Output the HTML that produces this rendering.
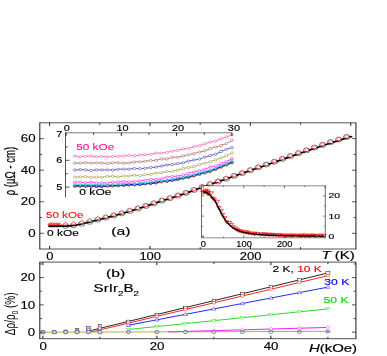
<!DOCTYPE html>
<html><head><meta charset="utf-8"><title>SrIr2B2 resistivity</title>
<style>
html,body{margin:0;padding:0;background:#fff;}
svg{display:block;position:absolute;left:0;top:0;font-family:"Liberation Sans",sans-serif;}
</style></head>
<body>
<svg width="387" height="356" viewBox="0 0 387 356">
<defs><filter id="soft" x="0" y="0" width="387" height="356" filterUnits="userSpaceOnUse"><feGaussianBlur stdDeviation="0.42 0.27"/></filter></defs>
<rect x="0" y="0" width="387" height="356" fill="#fff"/>
<g filter="url(#soft)">
<rect x="0" y="0" width="387" height="356" fill="#fff"/>
<g id="panel-a">
<ellipse cx="65.6" cy="225.89" rx="3.26" ry="2.45" fill="none" stroke="#181818" stroke-width="0.55"/>
<ellipse cx="73.63" cy="225.28" rx="3.26" ry="2.45" fill="none" stroke="#181818" stroke-width="0.55"/>
<ellipse cx="81.66" cy="223.76" rx="3.26" ry="2.45" fill="none" stroke="#181818" stroke-width="0.55"/>
<ellipse cx="89.69" cy="221.83" rx="3.26" ry="2.45" fill="none" stroke="#181818" stroke-width="0.55"/>
<ellipse cx="97.72" cy="219.72" rx="3.26" ry="2.45" fill="none" stroke="#181818" stroke-width="0.55"/>
<ellipse cx="105.75" cy="217.71" rx="3.26" ry="2.45" fill="none" stroke="#181818" stroke-width="0.55"/>
<ellipse cx="113.78" cy="215.63" rx="3.26" ry="2.45" fill="none" stroke="#181818" stroke-width="0.55"/>
<ellipse cx="121.81" cy="213.42" rx="3.26" ry="2.45" fill="none" stroke="#181818" stroke-width="0.55"/>
<ellipse cx="129.84" cy="210.99" rx="3.26" ry="2.45" fill="none" stroke="#181818" stroke-width="0.55"/>
<ellipse cx="137.87" cy="208.61" rx="3.26" ry="2.45" fill="none" stroke="#181818" stroke-width="0.55"/>
<ellipse cx="145.9" cy="206.03" rx="3.26" ry="2.45" fill="none" stroke="#181818" stroke-width="0.55"/>
<ellipse cx="153.93" cy="203.39" rx="3.26" ry="2.45" fill="none" stroke="#181818" stroke-width="0.55"/>
<ellipse cx="161.96" cy="200.68" rx="3.26" ry="2.45" fill="none" stroke="#181818" stroke-width="0.55"/>
<ellipse cx="169.99" cy="198.2" rx="3.26" ry="2.45" fill="none" stroke="#181818" stroke-width="0.55"/>
<ellipse cx="178.02" cy="195.63" rx="3.26" ry="2.45" fill="none" stroke="#181818" stroke-width="0.55"/>
<ellipse cx="186.05" cy="192.98" rx="3.26" ry="2.45" fill="none" stroke="#181818" stroke-width="0.55"/>
<ellipse cx="194.08" cy="190.01" rx="3.26" ry="2.45" fill="none" stroke="#181818" stroke-width="0.55"/>
<ellipse cx="202.11" cy="187.13" rx="3.26" ry="2.45" fill="none" stroke="#181818" stroke-width="0.55"/>
<ellipse cx="210.14" cy="184.26" rx="3.26" ry="2.45" fill="none" stroke="#181818" stroke-width="0.55"/>
<ellipse cx="218.17" cy="181.51" rx="3.26" ry="2.45" fill="none" stroke="#181818" stroke-width="0.55"/>
<ellipse cx="226.2" cy="178.77" rx="3.26" ry="2.45" fill="none" stroke="#181818" stroke-width="0.55"/>
<ellipse cx="234.23" cy="175.92" rx="3.26" ry="2.45" fill="none" stroke="#181818" stroke-width="0.55"/>
<ellipse cx="242.26" cy="173.11" rx="3.26" ry="2.45" fill="none" stroke="#181818" stroke-width="0.55"/>
<ellipse cx="250.29" cy="170.2" rx="3.26" ry="2.45" fill="none" stroke="#181818" stroke-width="0.55"/>
<ellipse cx="258.32" cy="167.42" rx="3.26" ry="2.45" fill="none" stroke="#181818" stroke-width="0.55"/>
<ellipse cx="266.35" cy="164.59" rx="3.26" ry="2.45" fill="none" stroke="#181818" stroke-width="0.55"/>
<ellipse cx="274.38" cy="161.76" rx="3.26" ry="2.45" fill="none" stroke="#181818" stroke-width="0.55"/>
<ellipse cx="282.41" cy="158.9" rx="3.26" ry="2.45" fill="none" stroke="#181818" stroke-width="0.55"/>
<ellipse cx="290.44" cy="156.05" rx="3.26" ry="2.45" fill="none" stroke="#181818" stroke-width="0.55"/>
<ellipse cx="298.47" cy="153.24" rx="3.26" ry="2.45" fill="none" stroke="#181818" stroke-width="0.55"/>
<ellipse cx="306.5" cy="150.42" rx="3.26" ry="2.45" fill="none" stroke="#181818" stroke-width="0.55"/>
<ellipse cx="314.53" cy="147.62" rx="3.26" ry="2.45" fill="none" stroke="#181818" stroke-width="0.55"/>
<ellipse cx="322.56" cy="144.91" rx="3.26" ry="2.45" fill="none" stroke="#181818" stroke-width="0.55"/>
<ellipse cx="330.59" cy="142.21" rx="3.26" ry="2.45" fill="none" stroke="#181818" stroke-width="0.55"/>
<ellipse cx="338.62" cy="139.6" rx="3.26" ry="2.45" fill="none" stroke="#181818" stroke-width="0.55"/>
<ellipse cx="346.65" cy="136.98" rx="3.26" ry="2.45" fill="none" stroke="#181818" stroke-width="0.55"/>
<polyline points="49.6,226.2 51.6,226.2 53.6,226.2 55.6,226.2 57.6,226.19 59.6,226.17 61.6,226.15 63.6,226.12 65.6,226.09 67.6,225.94 69.6,225.79 71.6,225.64 73.6,225.48 75.6,225.11 77.6,224.73 79.6,224.36 81.6,223.98 83.6,223.49 85.6,223.01 87.6,222.53 89.6,222.05 91.6,221.53 93.6,221 95.6,220.48 97.6,219.95 99.6,219.45 101.6,218.95 103.6,218.45 105.6,217.95 107.6,217.43 109.6,216.91 111.6,216.4 113.6,215.88 115.6,215.33 117.6,214.78 119.6,214.23 121.6,213.68 123.6,213.08 125.6,212.48 127.6,211.87 129.6,211.26 131.6,210.67 133.6,210.07 135.6,209.48 137.6,208.89 139.6,208.25 141.6,207.61 143.6,206.97 145.6,206.33 147.6,205.67 149.6,205.02 151.6,204.36 153.6,203.7 155.6,203.03 157.6,202.35 159.6,201.68 161.6,201 163.6,200.38 165.6,199.76 167.6,199.14 169.6,198.52 171.6,197.89 173.6,197.24 175.6,196.6 177.6,195.96 179.6,195.31 181.6,194.65 183.6,193.99 185.6,193.33 187.6,192.61 189.6,191.87 191.6,191.13 193.6,190.39 195.6,189.66 197.6,188.95 199.6,188.23 201.6,187.51 203.6,186.8 205.6,186.08 207.6,185.37 209.6,184.65 211.6,183.96 213.6,183.27 215.6,182.59 217.6,181.91 219.6,181.22 221.6,180.54 223.6,179.86 225.6,179.17 227.6,178.47 229.6,177.77 231.6,177.07 233.6,176.37 235.6,175.68 237.6,175 239.6,174.31 241.6,173.62 243.6,172.92 245.6,172.21 247.6,171.5 249.6,170.78 251.6,170.09 253.6,169.42 255.6,168.74 257.6,168.06 259.6,167.37 261.6,166.68 263.6,165.99 265.6,165.3 267.6,164.6 269.6,163.91 271.6,163.22 273.6,162.53 275.6,161.83 277.6,161.13 279.6,160.44 281.6,159.74 283.6,159.04 285.6,158.34 287.6,157.64 289.6,156.94 291.6,156.25 293.6,155.56 295.6,154.88 297.6,154.19 299.6,153.5 301.6,152.82 303.6,152.13 305.6,151.44 307.6,150.76 309.6,150.07 311.6,149.38 313.6,148.7 315.6,148.03 317.6,147.37 319.6,146.71 321.6,146.05 323.6,145.38 325.6,144.72 327.6,144.06 329.6,143.4 331.6,142.76 333.6,142.12 335.6,141.48 337.6,140.85 339.6,140.21 341.6,139.57 343.6,138.93 345.6,138.3 347.6,137.67 349.6,137.04 351.6,136.61" fill="none" stroke="#000" stroke-width="1.7" stroke-linejoin="round" stroke-linecap="round" />
<ellipse cx="49.4" cy="226.1" rx="1.2" ry="0.9" fill="#222" stroke="#000" stroke-width="0.4"/>
<ellipse cx="50.7" cy="226.1" rx="1.2" ry="0.9" fill="#222" stroke="#000" stroke-width="0.4"/>
<ellipse cx="52" cy="226.1" rx="1.2" ry="0.9" fill="#222" stroke="#000" stroke-width="0.4"/>
<ellipse cx="53.3" cy="226.1" rx="1.2" ry="0.9" fill="#222" stroke="#000" stroke-width="0.4"/>
<ellipse cx="54.6" cy="226.1" rx="1.2" ry="0.9" fill="#222" stroke="#000" stroke-width="0.4"/>
<ellipse cx="55.9" cy="226.1" rx="1.2" ry="0.9" fill="#222" stroke="#000" stroke-width="0.4"/>
<ellipse cx="57.2" cy="226.1" rx="1.2" ry="0.9" fill="#222" stroke="#000" stroke-width="0.4"/>
<ellipse cx="58.5" cy="226.1" rx="1.2" ry="0.9" fill="#222" stroke="#000" stroke-width="0.4"/>
<ellipse cx="59.8" cy="226.1" rx="1.2" ry="0.9" fill="#222" stroke="#000" stroke-width="0.4"/>
<polygon points="49.4,222.78 47.8,225 51,225" fill="#ff9090" stroke="#f01010" stroke-width="0.5" stroke-linejoin="miter"/>
<polygon points="50.7,222.78 49.1,225 52.3,225" fill="#ff9090" stroke="#f01010" stroke-width="0.5" stroke-linejoin="miter"/>
<polygon points="52,222.78 50.4,225 53.6,225" fill="#ff9090" stroke="#f01010" stroke-width="0.5" stroke-linejoin="miter"/>
<polygon points="53.3,222.78 51.7,225 54.9,225" fill="#ff9090" stroke="#f01010" stroke-width="0.5" stroke-linejoin="miter"/>
<polygon points="54.6,222.78 53,225 56.2,225" fill="#ff9090" stroke="#f01010" stroke-width="0.5" stroke-linejoin="miter"/>
<polygon points="55.9,222.78 54.3,225 57.5,225" fill="#ff9090" stroke="#f01010" stroke-width="0.5" stroke-linejoin="miter"/>
<polygon points="57.2,222.78 55.6,225 58.8,225" fill="#ff9090" stroke="#f01010" stroke-width="0.5" stroke-linejoin="miter"/>
<polygon points="58.5,222.78 56.9,225 60.1,225" fill="#ff9090" stroke="#f01010" stroke-width="0.5" stroke-linejoin="miter"/>
<polygon points="59.8,222.78 58.2,225 61.4,225" fill="#ff9090" stroke="#f01010" stroke-width="0.5" stroke-linejoin="miter"/>
<polygon points="65.6,221.67 63.19,225.02 68.01,225.02" fill="#fff" stroke="#f42830" stroke-width="0.62" stroke-linejoin="miter"/>
<polygon points="73.63,221.21 71.18,224.61 76.08,224.61" fill="#fff" stroke="#f42830" stroke-width="0.62" stroke-linejoin="miter"/>
<polygon points="81.66,219.88 79.17,223.34 84.15,223.34" fill="#fff" stroke="#f42830" stroke-width="0.62" stroke-linejoin="miter"/>
<polygon points="89.69,218.12 87.16,221.63 92.22,221.63" fill="#fff" stroke="#f42830" stroke-width="0.62" stroke-linejoin="miter"/>
<polygon points="97.72,216.16 95.15,219.73 100.29,219.73" fill="#fff" stroke="#f42830" stroke-width="0.62" stroke-linejoin="miter"/>
<polygon points="105.75,214.27 103.14,217.89 108.36,217.89" fill="#fff" stroke="#f42830" stroke-width="0.62" stroke-linejoin="miter"/>
<polygon points="113.78,212.27 111.13,215.95 116.43,215.95" fill="#fff" stroke="#f42830" stroke-width="0.62" stroke-linejoin="miter"/>
<polygon points="121.81,210.13 119.12,213.87 124.5,213.87" fill="#fff" stroke="#f42830" stroke-width="0.62" stroke-linejoin="miter"/>
<polygon points="129.84,207.74 127.11,211.53 132.57,211.53" fill="#fff" stroke="#f42830" stroke-width="0.62" stroke-linejoin="miter"/>
<polygon points="137.87,205.42 135.14,209.21 140.6,209.21" fill="#fff" stroke="#f42830" stroke-width="0.62" stroke-linejoin="miter"/>
<polygon points="145.9,202.89 143.17,206.68 148.63,206.68" fill="#fff" stroke="#f42830" stroke-width="0.62" stroke-linejoin="miter"/>
<polygon points="153.93,200.29 151.2,204.08 156.66,204.08" fill="#fff" stroke="#f42830" stroke-width="0.62" stroke-linejoin="miter"/>
<polygon points="161.96,197.61 159.23,201.41 164.69,201.41" fill="#fff" stroke="#f42830" stroke-width="0.62" stroke-linejoin="miter"/>
<polygon points="169.99,195.16 167.26,198.95 172.72,198.95" fill="#fff" stroke="#f42830" stroke-width="0.62" stroke-linejoin="miter"/>
<polygon points="178.02,192.61 175.29,196.4 180.75,196.4" fill="#fff" stroke="#f42830" stroke-width="0.62" stroke-linejoin="miter"/>
<polygon points="186.05,189.98 183.32,193.77 188.78,193.77" fill="#fff" stroke="#f42830" stroke-width="0.62" stroke-linejoin="miter"/>
<polygon points="194.08,187.02 191.35,190.82 196.81,190.82" fill="#fff" stroke="#f42830" stroke-width="0.62" stroke-linejoin="miter"/>
<polygon points="202.11,184.16 199.38,187.95 204.84,187.95" fill="#fff" stroke="#f42830" stroke-width="0.62" stroke-linejoin="miter"/>
<polygon points="210.14,181.3 207.41,185.09 212.87,185.09" fill="#fff" stroke="#f42830" stroke-width="0.62" stroke-linejoin="miter"/>
<polygon points="218.17,178.56 215.44,182.35 220.9,182.35" fill="#fff" stroke="#f42830" stroke-width="0.62" stroke-linejoin="miter"/>
<polygon points="226.2,175.83 223.47,179.62 228.93,179.62" fill="#fff" stroke="#f42830" stroke-width="0.62" stroke-linejoin="miter"/>
<polygon points="234.23,172.99 231.5,176.78 236.96,176.78" fill="#fff" stroke="#f42830" stroke-width="0.62" stroke-linejoin="miter"/>
<polygon points="242.26,170.19 239.53,173.98 244.99,173.98" fill="#fff" stroke="#f42830" stroke-width="0.62" stroke-linejoin="miter"/>
<polygon points="250.29,167.28 247.56,171.08 253.02,171.08" fill="#fff" stroke="#f42830" stroke-width="0.62" stroke-linejoin="miter"/>
<polygon points="258.32,164.51 255.59,168.3 261.05,168.3" fill="#fff" stroke="#f42830" stroke-width="0.62" stroke-linejoin="miter"/>
<polygon points="266.35,161.68 263.62,165.48 269.08,165.48" fill="#fff" stroke="#f42830" stroke-width="0.62" stroke-linejoin="miter"/>
<polygon points="274.38,158.86 271.65,162.65 277.11,162.65" fill="#fff" stroke="#f42830" stroke-width="0.62" stroke-linejoin="miter"/>
<polygon points="282.41,156 279.68,159.79 285.14,159.79" fill="#fff" stroke="#f42830" stroke-width="0.62" stroke-linejoin="miter"/>
<polygon points="290.44,153.15 287.71,156.94 293.17,156.94" fill="#fff" stroke="#f42830" stroke-width="0.62" stroke-linejoin="miter"/>
<polygon points="298.47,150.34 295.74,154.13 301.2,154.13" fill="#fff" stroke="#f42830" stroke-width="0.62" stroke-linejoin="miter"/>
<polygon points="306.5,147.53 303.77,151.32 309.23,151.32" fill="#fff" stroke="#f42830" stroke-width="0.62" stroke-linejoin="miter"/>
<polygon points="314.53,144.73 311.8,148.52 317.26,148.52" fill="#fff" stroke="#f42830" stroke-width="0.62" stroke-linejoin="miter"/>
<polygon points="322.56,142.02 319.83,145.81 325.29,145.81" fill="#fff" stroke="#f42830" stroke-width="0.62" stroke-linejoin="miter"/>
<polygon points="330.59,139.32 327.86,143.11 333.32,143.11" fill="#fff" stroke="#f42830" stroke-width="0.62" stroke-linejoin="miter"/>
<polygon points="338.62,136.71 335.89,140.5 341.35,140.5" fill="#fff" stroke="#f42830" stroke-width="0.62" stroke-linejoin="miter"/>
<polygon points="346.65,134.1 343.92,137.89 349.38,137.89" fill="#fff" stroke="#f42830" stroke-width="0.62" stroke-linejoin="miter"/>
</g>
<g id="inset1">
<polyline points="74.85,186.07 80.26,186.31 85.68,185.92 91.09,186.24 96.51,186.71 101.93,186.73 107.34,185.84 112.76,185.81 118.17,185.44 123.59,185.6 129,184.8 134.42,184.87 139.84,184.64 145.25,183.73 150.67,183.62 156.08,182.92 161.5,181.61 166.91,181.44 172.33,180.25 177.74,179.46 183.16,178.24 188.58,177.49 193.99,175.89 199.41,174.13 204.82,172.95 210.24,171.46 215.65,169.03 221.07,166.87 226.48,164.8 231.9,162.98" fill="none" stroke="#000000" stroke-width="0.7" stroke-linejoin="round" stroke-linecap="round" stroke-linejoin="miter"/>
<ellipse cx="74.85" cy="186.07" rx="1.33" ry="1" fill="#fff" fill-opacity="0.45" stroke="#000000" stroke-width="0.5"/>
<ellipse cx="80.26" cy="186.31" rx="1.33" ry="1" fill="#fff" fill-opacity="0.45" stroke="#000000" stroke-width="0.5"/>
<ellipse cx="85.68" cy="185.92" rx="1.33" ry="1" fill="#fff" fill-opacity="0.45" stroke="#000000" stroke-width="0.5"/>
<ellipse cx="91.09" cy="186.24" rx="1.33" ry="1" fill="#fff" fill-opacity="0.45" stroke="#000000" stroke-width="0.5"/>
<ellipse cx="96.51" cy="186.71" rx="1.33" ry="1" fill="#fff" fill-opacity="0.45" stroke="#000000" stroke-width="0.5"/>
<ellipse cx="101.93" cy="186.73" rx="1.33" ry="1" fill="#fff" fill-opacity="0.45" stroke="#000000" stroke-width="0.5"/>
<ellipse cx="107.34" cy="185.84" rx="1.33" ry="1" fill="#fff" fill-opacity="0.45" stroke="#000000" stroke-width="0.5"/>
<ellipse cx="112.76" cy="185.81" rx="1.33" ry="1" fill="#fff" fill-opacity="0.45" stroke="#000000" stroke-width="0.5"/>
<ellipse cx="118.17" cy="185.44" rx="1.33" ry="1" fill="#fff" fill-opacity="0.45" stroke="#000000" stroke-width="0.5"/>
<ellipse cx="123.59" cy="185.6" rx="1.33" ry="1" fill="#fff" fill-opacity="0.45" stroke="#000000" stroke-width="0.5"/>
<ellipse cx="129" cy="184.8" rx="1.33" ry="1" fill="#fff" fill-opacity="0.45" stroke="#000000" stroke-width="0.5"/>
<ellipse cx="134.42" cy="184.87" rx="1.33" ry="1" fill="#fff" fill-opacity="0.45" stroke="#000000" stroke-width="0.5"/>
<ellipse cx="139.84" cy="184.64" rx="1.33" ry="1" fill="#fff" fill-opacity="0.45" stroke="#000000" stroke-width="0.5"/>
<ellipse cx="145.25" cy="183.73" rx="1.33" ry="1" fill="#fff" fill-opacity="0.45" stroke="#000000" stroke-width="0.5"/>
<ellipse cx="150.67" cy="183.62" rx="1.33" ry="1" fill="#fff" fill-opacity="0.45" stroke="#000000" stroke-width="0.5"/>
<ellipse cx="156.08" cy="182.92" rx="1.33" ry="1" fill="#fff" fill-opacity="0.45" stroke="#000000" stroke-width="0.5"/>
<ellipse cx="161.5" cy="181.61" rx="1.33" ry="1" fill="#fff" fill-opacity="0.45" stroke="#000000" stroke-width="0.5"/>
<ellipse cx="166.91" cy="181.44" rx="1.33" ry="1" fill="#fff" fill-opacity="0.45" stroke="#000000" stroke-width="0.5"/>
<ellipse cx="172.33" cy="180.25" rx="1.33" ry="1" fill="#fff" fill-opacity="0.45" stroke="#000000" stroke-width="0.5"/>
<ellipse cx="177.74" cy="179.46" rx="1.33" ry="1" fill="#fff" fill-opacity="0.45" stroke="#000000" stroke-width="0.5"/>
<ellipse cx="183.16" cy="178.24" rx="1.33" ry="1" fill="#fff" fill-opacity="0.45" stroke="#000000" stroke-width="0.5"/>
<ellipse cx="188.58" cy="177.49" rx="1.33" ry="1" fill="#fff" fill-opacity="0.45" stroke="#000000" stroke-width="0.5"/>
<ellipse cx="193.99" cy="175.89" rx="1.33" ry="1" fill="#fff" fill-opacity="0.45" stroke="#000000" stroke-width="0.5"/>
<ellipse cx="199.41" cy="174.13" rx="1.33" ry="1" fill="#fff" fill-opacity="0.45" stroke="#000000" stroke-width="0.5"/>
<ellipse cx="204.82" cy="172.95" rx="1.33" ry="1" fill="#fff" fill-opacity="0.45" stroke="#000000" stroke-width="0.5"/>
<ellipse cx="210.24" cy="171.46" rx="1.33" ry="1" fill="#fff" fill-opacity="0.45" stroke="#000000" stroke-width="0.5"/>
<ellipse cx="215.65" cy="169.03" rx="1.33" ry="1" fill="#fff" fill-opacity="0.45" stroke="#000000" stroke-width="0.5"/>
<ellipse cx="221.07" cy="166.87" rx="1.33" ry="1" fill="#fff" fill-opacity="0.45" stroke="#000000" stroke-width="0.5"/>
<ellipse cx="226.48" cy="164.8" rx="1.33" ry="1" fill="#fff" fill-opacity="0.45" stroke="#000000" stroke-width="0.5"/>
<ellipse cx="231.9" cy="162.98" rx="1.33" ry="1" fill="#fff" fill-opacity="0.45" stroke="#000000" stroke-width="0.5"/>
<polyline points="74.85,186.44 80.26,186.17 85.68,186.5 91.09,186.51 96.51,186.05 101.93,185.75 107.34,186.32 112.76,186.1 118.17,185.69 123.59,185.26 129,185.12 134.42,184.79 139.84,184.12 145.25,183.65 150.67,183.28 156.08,183.12 161.5,182.13 166.91,181.03 172.33,180.17 177.74,179.4 183.16,178.05 188.58,176.85 193.99,175.87 199.41,173.95 204.82,172.79 210.24,170.9 215.65,169.37 221.07,167.35 226.48,165.04 231.9,162.61" fill="none" stroke="#ff0000" stroke-width="0.7" stroke-linejoin="round" stroke-linecap="round" stroke-linejoin="miter"/>
<ellipse cx="74.85" cy="186.44" rx="1.33" ry="1" fill="#fff" fill-opacity="0.45" stroke="#ff0000" stroke-width="0.5"/>
<ellipse cx="80.26" cy="186.17" rx="1.33" ry="1" fill="#fff" fill-opacity="0.45" stroke="#ff0000" stroke-width="0.5"/>
<ellipse cx="85.68" cy="186.5" rx="1.33" ry="1" fill="#fff" fill-opacity="0.45" stroke="#ff0000" stroke-width="0.5"/>
<ellipse cx="91.09" cy="186.51" rx="1.33" ry="1" fill="#fff" fill-opacity="0.45" stroke="#ff0000" stroke-width="0.5"/>
<ellipse cx="96.51" cy="186.05" rx="1.33" ry="1" fill="#fff" fill-opacity="0.45" stroke="#ff0000" stroke-width="0.5"/>
<ellipse cx="101.93" cy="185.75" rx="1.33" ry="1" fill="#fff" fill-opacity="0.45" stroke="#ff0000" stroke-width="0.5"/>
<ellipse cx="107.34" cy="186.32" rx="1.33" ry="1" fill="#fff" fill-opacity="0.45" stroke="#ff0000" stroke-width="0.5"/>
<ellipse cx="112.76" cy="186.1" rx="1.33" ry="1" fill="#fff" fill-opacity="0.45" stroke="#ff0000" stroke-width="0.5"/>
<ellipse cx="118.17" cy="185.69" rx="1.33" ry="1" fill="#fff" fill-opacity="0.45" stroke="#ff0000" stroke-width="0.5"/>
<ellipse cx="123.59" cy="185.26" rx="1.33" ry="1" fill="#fff" fill-opacity="0.45" stroke="#ff0000" stroke-width="0.5"/>
<ellipse cx="129" cy="185.12" rx="1.33" ry="1" fill="#fff" fill-opacity="0.45" stroke="#ff0000" stroke-width="0.5"/>
<ellipse cx="134.42" cy="184.79" rx="1.33" ry="1" fill="#fff" fill-opacity="0.45" stroke="#ff0000" stroke-width="0.5"/>
<ellipse cx="139.84" cy="184.12" rx="1.33" ry="1" fill="#fff" fill-opacity="0.45" stroke="#ff0000" stroke-width="0.5"/>
<ellipse cx="145.25" cy="183.65" rx="1.33" ry="1" fill="#fff" fill-opacity="0.45" stroke="#ff0000" stroke-width="0.5"/>
<ellipse cx="150.67" cy="183.28" rx="1.33" ry="1" fill="#fff" fill-opacity="0.45" stroke="#ff0000" stroke-width="0.5"/>
<ellipse cx="156.08" cy="183.12" rx="1.33" ry="1" fill="#fff" fill-opacity="0.45" stroke="#ff0000" stroke-width="0.5"/>
<ellipse cx="161.5" cy="182.13" rx="1.33" ry="1" fill="#fff" fill-opacity="0.45" stroke="#ff0000" stroke-width="0.5"/>
<ellipse cx="166.91" cy="181.03" rx="1.33" ry="1" fill="#fff" fill-opacity="0.45" stroke="#ff0000" stroke-width="0.5"/>
<ellipse cx="172.33" cy="180.17" rx="1.33" ry="1" fill="#fff" fill-opacity="0.45" stroke="#ff0000" stroke-width="0.5"/>
<ellipse cx="177.74" cy="179.4" rx="1.33" ry="1" fill="#fff" fill-opacity="0.45" stroke="#ff0000" stroke-width="0.5"/>
<ellipse cx="183.16" cy="178.05" rx="1.33" ry="1" fill="#fff" fill-opacity="0.45" stroke="#ff0000" stroke-width="0.5"/>
<ellipse cx="188.58" cy="176.85" rx="1.33" ry="1" fill="#fff" fill-opacity="0.45" stroke="#ff0000" stroke-width="0.5"/>
<ellipse cx="193.99" cy="175.87" rx="1.33" ry="1" fill="#fff" fill-opacity="0.45" stroke="#ff0000" stroke-width="0.5"/>
<ellipse cx="199.41" cy="173.95" rx="1.33" ry="1" fill="#fff" fill-opacity="0.45" stroke="#ff0000" stroke-width="0.5"/>
<ellipse cx="204.82" cy="172.79" rx="1.33" ry="1" fill="#fff" fill-opacity="0.45" stroke="#ff0000" stroke-width="0.5"/>
<ellipse cx="210.24" cy="170.9" rx="1.33" ry="1" fill="#fff" fill-opacity="0.45" stroke="#ff0000" stroke-width="0.5"/>
<ellipse cx="215.65" cy="169.37" rx="1.33" ry="1" fill="#fff" fill-opacity="0.45" stroke="#ff0000" stroke-width="0.5"/>
<ellipse cx="221.07" cy="167.35" rx="1.33" ry="1" fill="#fff" fill-opacity="0.45" stroke="#ff0000" stroke-width="0.5"/>
<ellipse cx="226.48" cy="165.04" rx="1.33" ry="1" fill="#fff" fill-opacity="0.45" stroke="#ff0000" stroke-width="0.5"/>
<ellipse cx="231.9" cy="162.61" rx="1.33" ry="1" fill="#fff" fill-opacity="0.45" stroke="#ff0000" stroke-width="0.5"/>
<polyline points="74.85,185.58 80.26,185.96 85.68,185.68 91.09,186.01 96.51,185.79 101.93,185.94 107.34,185.47 112.76,185.56 118.17,186.16 123.59,185.07 129,185.23 134.42,184.79 139.84,184.43 145.25,183.66 150.67,183.25 156.08,182.06 161.5,181.38 166.91,180.76 172.33,179.85 177.74,178.84 183.16,177.8 188.58,177.08 193.99,175.36 199.41,174.75 204.82,172.86 210.24,170.96 215.65,169.25 221.07,166.69 226.48,165.19 231.9,162.67" fill="none" stroke="#00c000" stroke-width="0.7" stroke-linejoin="round" stroke-linecap="round" stroke-linejoin="miter"/>
<ellipse cx="74.85" cy="185.58" rx="1.33" ry="1" fill="#fff" fill-opacity="0.45" stroke="#00c000" stroke-width="0.5"/>
<ellipse cx="80.26" cy="185.96" rx="1.33" ry="1" fill="#fff" fill-opacity="0.45" stroke="#00c000" stroke-width="0.5"/>
<ellipse cx="85.68" cy="185.68" rx="1.33" ry="1" fill="#fff" fill-opacity="0.45" stroke="#00c000" stroke-width="0.5"/>
<ellipse cx="91.09" cy="186.01" rx="1.33" ry="1" fill="#fff" fill-opacity="0.45" stroke="#00c000" stroke-width="0.5"/>
<ellipse cx="96.51" cy="185.79" rx="1.33" ry="1" fill="#fff" fill-opacity="0.45" stroke="#00c000" stroke-width="0.5"/>
<ellipse cx="101.93" cy="185.94" rx="1.33" ry="1" fill="#fff" fill-opacity="0.45" stroke="#00c000" stroke-width="0.5"/>
<ellipse cx="107.34" cy="185.47" rx="1.33" ry="1" fill="#fff" fill-opacity="0.45" stroke="#00c000" stroke-width="0.5"/>
<ellipse cx="112.76" cy="185.56" rx="1.33" ry="1" fill="#fff" fill-opacity="0.45" stroke="#00c000" stroke-width="0.5"/>
<ellipse cx="118.17" cy="186.16" rx="1.33" ry="1" fill="#fff" fill-opacity="0.45" stroke="#00c000" stroke-width="0.5"/>
<ellipse cx="123.59" cy="185.07" rx="1.33" ry="1" fill="#fff" fill-opacity="0.45" stroke="#00c000" stroke-width="0.5"/>
<ellipse cx="129" cy="185.23" rx="1.33" ry="1" fill="#fff" fill-opacity="0.45" stroke="#00c000" stroke-width="0.5"/>
<ellipse cx="134.42" cy="184.79" rx="1.33" ry="1" fill="#fff" fill-opacity="0.45" stroke="#00c000" stroke-width="0.5"/>
<ellipse cx="139.84" cy="184.43" rx="1.33" ry="1" fill="#fff" fill-opacity="0.45" stroke="#00c000" stroke-width="0.5"/>
<ellipse cx="145.25" cy="183.66" rx="1.33" ry="1" fill="#fff" fill-opacity="0.45" stroke="#00c000" stroke-width="0.5"/>
<ellipse cx="150.67" cy="183.25" rx="1.33" ry="1" fill="#fff" fill-opacity="0.45" stroke="#00c000" stroke-width="0.5"/>
<ellipse cx="156.08" cy="182.06" rx="1.33" ry="1" fill="#fff" fill-opacity="0.45" stroke="#00c000" stroke-width="0.5"/>
<ellipse cx="161.5" cy="181.38" rx="1.33" ry="1" fill="#fff" fill-opacity="0.45" stroke="#00c000" stroke-width="0.5"/>
<ellipse cx="166.91" cy="180.76" rx="1.33" ry="1" fill="#fff" fill-opacity="0.45" stroke="#00c000" stroke-width="0.5"/>
<ellipse cx="172.33" cy="179.85" rx="1.33" ry="1" fill="#fff" fill-opacity="0.45" stroke="#00c000" stroke-width="0.5"/>
<ellipse cx="177.74" cy="178.84" rx="1.33" ry="1" fill="#fff" fill-opacity="0.45" stroke="#00c000" stroke-width="0.5"/>
<ellipse cx="183.16" cy="177.8" rx="1.33" ry="1" fill="#fff" fill-opacity="0.45" stroke="#00c000" stroke-width="0.5"/>
<ellipse cx="188.58" cy="177.08" rx="1.33" ry="1" fill="#fff" fill-opacity="0.45" stroke="#00c000" stroke-width="0.5"/>
<ellipse cx="193.99" cy="175.36" rx="1.33" ry="1" fill="#fff" fill-opacity="0.45" stroke="#00c000" stroke-width="0.5"/>
<ellipse cx="199.41" cy="174.75" rx="1.33" ry="1" fill="#fff" fill-opacity="0.45" stroke="#00c000" stroke-width="0.5"/>
<ellipse cx="204.82" cy="172.86" rx="1.33" ry="1" fill="#fff" fill-opacity="0.45" stroke="#00c000" stroke-width="0.5"/>
<ellipse cx="210.24" cy="170.96" rx="1.33" ry="1" fill="#fff" fill-opacity="0.45" stroke="#00c000" stroke-width="0.5"/>
<ellipse cx="215.65" cy="169.25" rx="1.33" ry="1" fill="#fff" fill-opacity="0.45" stroke="#00c000" stroke-width="0.5"/>
<ellipse cx="221.07" cy="166.69" rx="1.33" ry="1" fill="#fff" fill-opacity="0.45" stroke="#00c000" stroke-width="0.5"/>
<ellipse cx="226.48" cy="165.19" rx="1.33" ry="1" fill="#fff" fill-opacity="0.45" stroke="#00c000" stroke-width="0.5"/>
<ellipse cx="231.9" cy="162.67" rx="1.33" ry="1" fill="#fff" fill-opacity="0.45" stroke="#00c000" stroke-width="0.5"/>
<polyline points="74.85,185.76 80.26,185.56 85.68,186.03 91.09,185.99 96.51,185.96 101.93,186.25 107.34,185.9 112.76,185.49 118.17,185.5 123.59,184.83 129,184.49 134.42,184.67 139.84,184.29 145.25,184.01 150.67,183.33 156.08,182.38 161.5,181.2 166.91,180.88 172.33,180.51 177.74,179.39 183.16,177.99 188.58,176.77 193.99,175.19 199.41,173.7 204.82,171.99 210.24,171.15 215.65,168.97 221.07,166.36 226.48,164.42 231.9,161.6" fill="none" stroke="#0000ff" stroke-width="0.7" stroke-linejoin="round" stroke-linecap="round" stroke-linejoin="miter"/>
<ellipse cx="74.85" cy="185.76" rx="1.33" ry="1" fill="#fff" fill-opacity="0.45" stroke="#0000ff" stroke-width="0.5"/>
<ellipse cx="80.26" cy="185.56" rx="1.33" ry="1" fill="#fff" fill-opacity="0.45" stroke="#0000ff" stroke-width="0.5"/>
<ellipse cx="85.68" cy="186.03" rx="1.33" ry="1" fill="#fff" fill-opacity="0.45" stroke="#0000ff" stroke-width="0.5"/>
<ellipse cx="91.09" cy="185.99" rx="1.33" ry="1" fill="#fff" fill-opacity="0.45" stroke="#0000ff" stroke-width="0.5"/>
<ellipse cx="96.51" cy="185.96" rx="1.33" ry="1" fill="#fff" fill-opacity="0.45" stroke="#0000ff" stroke-width="0.5"/>
<ellipse cx="101.93" cy="186.25" rx="1.33" ry="1" fill="#fff" fill-opacity="0.45" stroke="#0000ff" stroke-width="0.5"/>
<ellipse cx="107.34" cy="185.9" rx="1.33" ry="1" fill="#fff" fill-opacity="0.45" stroke="#0000ff" stroke-width="0.5"/>
<ellipse cx="112.76" cy="185.49" rx="1.33" ry="1" fill="#fff" fill-opacity="0.45" stroke="#0000ff" stroke-width="0.5"/>
<ellipse cx="118.17" cy="185.5" rx="1.33" ry="1" fill="#fff" fill-opacity="0.45" stroke="#0000ff" stroke-width="0.5"/>
<ellipse cx="123.59" cy="184.83" rx="1.33" ry="1" fill="#fff" fill-opacity="0.45" stroke="#0000ff" stroke-width="0.5"/>
<ellipse cx="129" cy="184.49" rx="1.33" ry="1" fill="#fff" fill-opacity="0.45" stroke="#0000ff" stroke-width="0.5"/>
<ellipse cx="134.42" cy="184.67" rx="1.33" ry="1" fill="#fff" fill-opacity="0.45" stroke="#0000ff" stroke-width="0.5"/>
<ellipse cx="139.84" cy="184.29" rx="1.33" ry="1" fill="#fff" fill-opacity="0.45" stroke="#0000ff" stroke-width="0.5"/>
<ellipse cx="145.25" cy="184.01" rx="1.33" ry="1" fill="#fff" fill-opacity="0.45" stroke="#0000ff" stroke-width="0.5"/>
<ellipse cx="150.67" cy="183.33" rx="1.33" ry="1" fill="#fff" fill-opacity="0.45" stroke="#0000ff" stroke-width="0.5"/>
<ellipse cx="156.08" cy="182.38" rx="1.33" ry="1" fill="#fff" fill-opacity="0.45" stroke="#0000ff" stroke-width="0.5"/>
<ellipse cx="161.5" cy="181.2" rx="1.33" ry="1" fill="#fff" fill-opacity="0.45" stroke="#0000ff" stroke-width="0.5"/>
<ellipse cx="166.91" cy="180.88" rx="1.33" ry="1" fill="#fff" fill-opacity="0.45" stroke="#0000ff" stroke-width="0.5"/>
<ellipse cx="172.33" cy="180.51" rx="1.33" ry="1" fill="#fff" fill-opacity="0.45" stroke="#0000ff" stroke-width="0.5"/>
<ellipse cx="177.74" cy="179.39" rx="1.33" ry="1" fill="#fff" fill-opacity="0.45" stroke="#0000ff" stroke-width="0.5"/>
<ellipse cx="183.16" cy="177.99" rx="1.33" ry="1" fill="#fff" fill-opacity="0.45" stroke="#0000ff" stroke-width="0.5"/>
<ellipse cx="188.58" cy="176.77" rx="1.33" ry="1" fill="#fff" fill-opacity="0.45" stroke="#0000ff" stroke-width="0.5"/>
<ellipse cx="193.99" cy="175.19" rx="1.33" ry="1" fill="#fff" fill-opacity="0.45" stroke="#0000ff" stroke-width="0.5"/>
<ellipse cx="199.41" cy="173.7" rx="1.33" ry="1" fill="#fff" fill-opacity="0.45" stroke="#0000ff" stroke-width="0.5"/>
<ellipse cx="204.82" cy="171.99" rx="1.33" ry="1" fill="#fff" fill-opacity="0.45" stroke="#0000ff" stroke-width="0.5"/>
<ellipse cx="210.24" cy="171.15" rx="1.33" ry="1" fill="#fff" fill-opacity="0.45" stroke="#0000ff" stroke-width="0.5"/>
<ellipse cx="215.65" cy="168.97" rx="1.33" ry="1" fill="#fff" fill-opacity="0.45" stroke="#0000ff" stroke-width="0.5"/>
<ellipse cx="221.07" cy="166.36" rx="1.33" ry="1" fill="#fff" fill-opacity="0.45" stroke="#0000ff" stroke-width="0.5"/>
<ellipse cx="226.48" cy="164.42" rx="1.33" ry="1" fill="#fff" fill-opacity="0.45" stroke="#0000ff" stroke-width="0.5"/>
<ellipse cx="231.9" cy="161.6" rx="1.33" ry="1" fill="#fff" fill-opacity="0.45" stroke="#0000ff" stroke-width="0.5"/>
<polyline points="74.85,184 80.26,184.63 85.68,184.62 91.09,184.5 96.51,184.33 101.93,184.77 107.34,185.06 112.76,184.37 118.17,183.77 123.59,183.48 129,183.17 134.42,183.73 139.84,182.82 145.25,182.66 150.67,181.38 156.08,180.87 161.5,180.66 166.91,180.13 172.33,178.66 177.74,177.4 183.16,177.21 188.58,175.39 193.99,174.57 199.41,172.48 204.82,171.47 210.24,169.89 215.65,167.87 221.07,165.4 226.48,163.57 231.9,160.5" fill="none" stroke="#00c8c8" stroke-width="0.7" stroke-linejoin="round" stroke-linecap="round" stroke-linejoin="miter"/>
<ellipse cx="74.85" cy="184" rx="1.33" ry="1" fill="#fff" fill-opacity="0.45" stroke="#00c8c8" stroke-width="0.5"/>
<ellipse cx="80.26" cy="184.63" rx="1.33" ry="1" fill="#fff" fill-opacity="0.45" stroke="#00c8c8" stroke-width="0.5"/>
<ellipse cx="85.68" cy="184.62" rx="1.33" ry="1" fill="#fff" fill-opacity="0.45" stroke="#00c8c8" stroke-width="0.5"/>
<ellipse cx="91.09" cy="184.5" rx="1.33" ry="1" fill="#fff" fill-opacity="0.45" stroke="#00c8c8" stroke-width="0.5"/>
<ellipse cx="96.51" cy="184.33" rx="1.33" ry="1" fill="#fff" fill-opacity="0.45" stroke="#00c8c8" stroke-width="0.5"/>
<ellipse cx="101.93" cy="184.77" rx="1.33" ry="1" fill="#fff" fill-opacity="0.45" stroke="#00c8c8" stroke-width="0.5"/>
<ellipse cx="107.34" cy="185.06" rx="1.33" ry="1" fill="#fff" fill-opacity="0.45" stroke="#00c8c8" stroke-width="0.5"/>
<ellipse cx="112.76" cy="184.37" rx="1.33" ry="1" fill="#fff" fill-opacity="0.45" stroke="#00c8c8" stroke-width="0.5"/>
<ellipse cx="118.17" cy="183.77" rx="1.33" ry="1" fill="#fff" fill-opacity="0.45" stroke="#00c8c8" stroke-width="0.5"/>
<ellipse cx="123.59" cy="183.48" rx="1.33" ry="1" fill="#fff" fill-opacity="0.45" stroke="#00c8c8" stroke-width="0.5"/>
<ellipse cx="129" cy="183.17" rx="1.33" ry="1" fill="#fff" fill-opacity="0.45" stroke="#00c8c8" stroke-width="0.5"/>
<ellipse cx="134.42" cy="183.73" rx="1.33" ry="1" fill="#fff" fill-opacity="0.45" stroke="#00c8c8" stroke-width="0.5"/>
<ellipse cx="139.84" cy="182.82" rx="1.33" ry="1" fill="#fff" fill-opacity="0.45" stroke="#00c8c8" stroke-width="0.5"/>
<ellipse cx="145.25" cy="182.66" rx="1.33" ry="1" fill="#fff" fill-opacity="0.45" stroke="#00c8c8" stroke-width="0.5"/>
<ellipse cx="150.67" cy="181.38" rx="1.33" ry="1" fill="#fff" fill-opacity="0.45" stroke="#00c8c8" stroke-width="0.5"/>
<ellipse cx="156.08" cy="180.87" rx="1.33" ry="1" fill="#fff" fill-opacity="0.45" stroke="#00c8c8" stroke-width="0.5"/>
<ellipse cx="161.5" cy="180.66" rx="1.33" ry="1" fill="#fff" fill-opacity="0.45" stroke="#00c8c8" stroke-width="0.5"/>
<ellipse cx="166.91" cy="180.13" rx="1.33" ry="1" fill="#fff" fill-opacity="0.45" stroke="#00c8c8" stroke-width="0.5"/>
<ellipse cx="172.33" cy="178.66" rx="1.33" ry="1" fill="#fff" fill-opacity="0.45" stroke="#00c8c8" stroke-width="0.5"/>
<ellipse cx="177.74" cy="177.4" rx="1.33" ry="1" fill="#fff" fill-opacity="0.45" stroke="#00c8c8" stroke-width="0.5"/>
<ellipse cx="183.16" cy="177.21" rx="1.33" ry="1" fill="#fff" fill-opacity="0.45" stroke="#00c8c8" stroke-width="0.5"/>
<ellipse cx="188.58" cy="175.39" rx="1.33" ry="1" fill="#fff" fill-opacity="0.45" stroke="#00c8c8" stroke-width="0.5"/>
<ellipse cx="193.99" cy="174.57" rx="1.33" ry="1" fill="#fff" fill-opacity="0.45" stroke="#00c8c8" stroke-width="0.5"/>
<ellipse cx="199.41" cy="172.48" rx="1.33" ry="1" fill="#fff" fill-opacity="0.45" stroke="#00c8c8" stroke-width="0.5"/>
<ellipse cx="204.82" cy="171.47" rx="1.33" ry="1" fill="#fff" fill-opacity="0.45" stroke="#00c8c8" stroke-width="0.5"/>
<ellipse cx="210.24" cy="169.89" rx="1.33" ry="1" fill="#fff" fill-opacity="0.45" stroke="#00c8c8" stroke-width="0.5"/>
<ellipse cx="215.65" cy="167.87" rx="1.33" ry="1" fill="#fff" fill-opacity="0.45" stroke="#00c8c8" stroke-width="0.5"/>
<ellipse cx="221.07" cy="165.4" rx="1.33" ry="1" fill="#fff" fill-opacity="0.45" stroke="#00c8c8" stroke-width="0.5"/>
<ellipse cx="226.48" cy="163.57" rx="1.33" ry="1" fill="#fff" fill-opacity="0.45" stroke="#00c8c8" stroke-width="0.5"/>
<ellipse cx="231.9" cy="160.5" rx="1.33" ry="1" fill="#fff" fill-opacity="0.45" stroke="#00c8c8" stroke-width="0.5"/>
<polyline points="74.85,182.01 80.26,182.19 85.68,182.77 91.09,182.05 96.51,182.9 101.93,182.83 107.34,182.98 112.76,182.19 118.17,181.82 123.59,181.58 129,181.89 134.42,181.64 139.84,180.91 145.25,180.18 150.67,179.42 156.08,179.41 161.5,178.78 166.91,177.16 172.33,176.45 177.74,176.17 183.16,175.12 188.58,173.35 193.99,172 199.41,170.72 204.82,169.26 210.24,167.03 215.65,165.96 221.07,163.57 226.48,161.61 231.9,158.6" fill="none" stroke="#ff00ff" stroke-width="0.7" stroke-linejoin="round" stroke-linecap="round" stroke-linejoin="miter"/>
<ellipse cx="74.85" cy="182.01" rx="1.49" ry="1.12" fill="#fff" stroke="#ff00ff" stroke-width="0.5"/>
<ellipse cx="80.26" cy="182.19" rx="1.49" ry="1.12" fill="#fff" stroke="#ff00ff" stroke-width="0.5"/>
<ellipse cx="85.68" cy="182.77" rx="1.49" ry="1.12" fill="#fff" stroke="#ff00ff" stroke-width="0.5"/>
<ellipse cx="91.09" cy="182.05" rx="1.49" ry="1.12" fill="#fff" stroke="#ff00ff" stroke-width="0.5"/>
<ellipse cx="96.51" cy="182.9" rx="1.49" ry="1.12" fill="#fff" stroke="#ff00ff" stroke-width="0.5"/>
<ellipse cx="101.93" cy="182.83" rx="1.49" ry="1.12" fill="#fff" stroke="#ff00ff" stroke-width="0.5"/>
<ellipse cx="107.34" cy="182.98" rx="1.49" ry="1.12" fill="#fff" stroke="#ff00ff" stroke-width="0.5"/>
<ellipse cx="112.76" cy="182.19" rx="1.49" ry="1.12" fill="#fff" stroke="#ff00ff" stroke-width="0.5"/>
<ellipse cx="118.17" cy="181.82" rx="1.49" ry="1.12" fill="#fff" stroke="#ff00ff" stroke-width="0.5"/>
<ellipse cx="123.59" cy="181.58" rx="1.49" ry="1.12" fill="#fff" stroke="#ff00ff" stroke-width="0.5"/>
<ellipse cx="129" cy="181.89" rx="1.49" ry="1.12" fill="#fff" stroke="#ff00ff" stroke-width="0.5"/>
<ellipse cx="134.42" cy="181.64" rx="1.49" ry="1.12" fill="#fff" stroke="#ff00ff" stroke-width="0.5"/>
<ellipse cx="139.84" cy="180.91" rx="1.49" ry="1.12" fill="#fff" stroke="#ff00ff" stroke-width="0.5"/>
<ellipse cx="145.25" cy="180.18" rx="1.49" ry="1.12" fill="#fff" stroke="#ff00ff" stroke-width="0.5"/>
<ellipse cx="150.67" cy="179.42" rx="1.49" ry="1.12" fill="#fff" stroke="#ff00ff" stroke-width="0.5"/>
<ellipse cx="156.08" cy="179.41" rx="1.49" ry="1.12" fill="#fff" stroke="#ff00ff" stroke-width="0.5"/>
<ellipse cx="161.5" cy="178.78" rx="1.49" ry="1.12" fill="#fff" stroke="#ff00ff" stroke-width="0.5"/>
<ellipse cx="166.91" cy="177.16" rx="1.49" ry="1.12" fill="#fff" stroke="#ff00ff" stroke-width="0.5"/>
<ellipse cx="172.33" cy="176.45" rx="1.49" ry="1.12" fill="#fff" stroke="#ff00ff" stroke-width="0.5"/>
<ellipse cx="177.74" cy="176.17" rx="1.49" ry="1.12" fill="#fff" stroke="#ff00ff" stroke-width="0.5"/>
<ellipse cx="183.16" cy="175.12" rx="1.49" ry="1.12" fill="#fff" stroke="#ff00ff" stroke-width="0.5"/>
<ellipse cx="188.58" cy="173.35" rx="1.49" ry="1.12" fill="#fff" stroke="#ff00ff" stroke-width="0.5"/>
<ellipse cx="193.99" cy="172" rx="1.49" ry="1.12" fill="#fff" stroke="#ff00ff" stroke-width="0.5"/>
<ellipse cx="199.41" cy="170.72" rx="1.49" ry="1.12" fill="#fff" stroke="#ff00ff" stroke-width="0.5"/>
<ellipse cx="204.82" cy="169.26" rx="1.49" ry="1.12" fill="#fff" stroke="#ff00ff" stroke-width="0.5"/>
<ellipse cx="210.24" cy="167.03" rx="1.49" ry="1.12" fill="#fff" stroke="#ff00ff" stroke-width="0.5"/>
<ellipse cx="215.65" cy="165.96" rx="1.49" ry="1.12" fill="#fff" stroke="#ff00ff" stroke-width="0.5"/>
<ellipse cx="221.07" cy="163.57" rx="1.49" ry="1.12" fill="#fff" stroke="#ff00ff" stroke-width="0.5"/>
<ellipse cx="226.48" cy="161.61" rx="1.49" ry="1.12" fill="#fff" stroke="#ff00ff" stroke-width="0.5"/>
<ellipse cx="231.9" cy="158.6" rx="1.49" ry="1.12" fill="#fff" stroke="#ff00ff" stroke-width="0.5"/>
<polyline points="74.85,177.13 80.26,176.95 85.68,176.58 91.09,177.32 96.51,177.1 101.93,177.27 107.34,176.35 112.76,176.25 118.17,176.81 123.59,176.05 129,175.94 134.42,175.14 139.84,175.6 145.25,174.58 150.67,174.39 156.08,172.95 161.5,172.71 166.91,171.49 172.33,171.54 177.74,170.09 183.16,168.6 188.58,167.42 193.99,166.6 199.41,164.64 204.82,163.16 210.24,161.68 215.65,159.84 221.07,157.87 226.48,155.66 231.9,152.96" fill="none" stroke="#909020" stroke-width="0.7" stroke-linejoin="round" stroke-linecap="round" stroke-linejoin="miter"/>
<ellipse cx="74.85" cy="177.13" rx="1.49" ry="1.12" fill="#fff" stroke="#909020" stroke-width="0.5"/>
<ellipse cx="80.26" cy="176.95" rx="1.49" ry="1.12" fill="#fff" stroke="#909020" stroke-width="0.5"/>
<ellipse cx="85.68" cy="176.58" rx="1.49" ry="1.12" fill="#fff" stroke="#909020" stroke-width="0.5"/>
<ellipse cx="91.09" cy="177.32" rx="1.49" ry="1.12" fill="#fff" stroke="#909020" stroke-width="0.5"/>
<ellipse cx="96.51" cy="177.1" rx="1.49" ry="1.12" fill="#fff" stroke="#909020" stroke-width="0.5"/>
<ellipse cx="101.93" cy="177.27" rx="1.49" ry="1.12" fill="#fff" stroke="#909020" stroke-width="0.5"/>
<ellipse cx="107.34" cy="176.35" rx="1.49" ry="1.12" fill="#fff" stroke="#909020" stroke-width="0.5"/>
<ellipse cx="112.76" cy="176.25" rx="1.49" ry="1.12" fill="#fff" stroke="#909020" stroke-width="0.5"/>
<ellipse cx="118.17" cy="176.81" rx="1.49" ry="1.12" fill="#fff" stroke="#909020" stroke-width="0.5"/>
<ellipse cx="123.59" cy="176.05" rx="1.49" ry="1.12" fill="#fff" stroke="#909020" stroke-width="0.5"/>
<ellipse cx="129" cy="175.94" rx="1.49" ry="1.12" fill="#fff" stroke="#909020" stroke-width="0.5"/>
<ellipse cx="134.42" cy="175.14" rx="1.49" ry="1.12" fill="#fff" stroke="#909020" stroke-width="0.5"/>
<ellipse cx="139.84" cy="175.6" rx="1.49" ry="1.12" fill="#fff" stroke="#909020" stroke-width="0.5"/>
<ellipse cx="145.25" cy="174.58" rx="1.49" ry="1.12" fill="#fff" stroke="#909020" stroke-width="0.5"/>
<ellipse cx="150.67" cy="174.39" rx="1.49" ry="1.12" fill="#fff" stroke="#909020" stroke-width="0.5"/>
<ellipse cx="156.08" cy="172.95" rx="1.49" ry="1.12" fill="#fff" stroke="#909020" stroke-width="0.5"/>
<ellipse cx="161.5" cy="172.71" rx="1.49" ry="1.12" fill="#fff" stroke="#909020" stroke-width="0.5"/>
<ellipse cx="166.91" cy="171.49" rx="1.49" ry="1.12" fill="#fff" stroke="#909020" stroke-width="0.5"/>
<ellipse cx="172.33" cy="171.54" rx="1.49" ry="1.12" fill="#fff" stroke="#909020" stroke-width="0.5"/>
<ellipse cx="177.74" cy="170.09" rx="1.49" ry="1.12" fill="#fff" stroke="#909020" stroke-width="0.5"/>
<ellipse cx="183.16" cy="168.6" rx="1.49" ry="1.12" fill="#fff" stroke="#909020" stroke-width="0.5"/>
<ellipse cx="188.58" cy="167.42" rx="1.49" ry="1.12" fill="#fff" stroke="#909020" stroke-width="0.5"/>
<ellipse cx="193.99" cy="166.6" rx="1.49" ry="1.12" fill="#fff" stroke="#909020" stroke-width="0.5"/>
<ellipse cx="199.41" cy="164.64" rx="1.49" ry="1.12" fill="#fff" stroke="#909020" stroke-width="0.5"/>
<ellipse cx="204.82" cy="163.16" rx="1.49" ry="1.12" fill="#fff" stroke="#909020" stroke-width="0.5"/>
<ellipse cx="210.24" cy="161.68" rx="1.49" ry="1.12" fill="#fff" stroke="#909020" stroke-width="0.5"/>
<ellipse cx="215.65" cy="159.84" rx="1.49" ry="1.12" fill="#fff" stroke="#909020" stroke-width="0.5"/>
<ellipse cx="221.07" cy="157.87" rx="1.49" ry="1.12" fill="#fff" stroke="#909020" stroke-width="0.5"/>
<ellipse cx="226.48" cy="155.66" rx="1.49" ry="1.12" fill="#fff" stroke="#909020" stroke-width="0.5"/>
<ellipse cx="231.9" cy="152.96" rx="1.49" ry="1.12" fill="#fff" stroke="#909020" stroke-width="0.5"/>
<polyline points="74.85,170.05 80.26,169.6 85.68,169.81 91.09,170.46 96.51,169.8 101.93,169.9 107.34,169.88 112.76,170.03 118.17,169.31 123.59,169.07 129,169.21 134.42,168.5 139.84,168.63 145.25,168.28 150.67,167.51 156.08,167.05 161.5,166.06 166.91,164.95 172.33,164.55 177.74,163.55 183.16,162.77 188.58,161.11 193.99,159.94 199.41,159.19 204.82,157.04 210.24,155.52 215.65,154.27 221.07,151.55 226.48,149.24 231.9,147.52" fill="none" stroke="#2828b0" stroke-width="0.7" stroke-linejoin="round" stroke-linecap="round" stroke-linejoin="miter"/>
<ellipse cx="74.85" cy="170.05" rx="1.49" ry="1.12" fill="#fff" stroke="#2828b0" stroke-width="0.5"/>
<ellipse cx="80.26" cy="169.6" rx="1.49" ry="1.12" fill="#fff" stroke="#2828b0" stroke-width="0.5"/>
<ellipse cx="85.68" cy="169.81" rx="1.49" ry="1.12" fill="#fff" stroke="#2828b0" stroke-width="0.5"/>
<ellipse cx="91.09" cy="170.46" rx="1.49" ry="1.12" fill="#fff" stroke="#2828b0" stroke-width="0.5"/>
<ellipse cx="96.51" cy="169.8" rx="1.49" ry="1.12" fill="#fff" stroke="#2828b0" stroke-width="0.5"/>
<ellipse cx="101.93" cy="169.9" rx="1.49" ry="1.12" fill="#fff" stroke="#2828b0" stroke-width="0.5"/>
<ellipse cx="107.34" cy="169.88" rx="1.49" ry="1.12" fill="#fff" stroke="#2828b0" stroke-width="0.5"/>
<ellipse cx="112.76" cy="170.03" rx="1.49" ry="1.12" fill="#fff" stroke="#2828b0" stroke-width="0.5"/>
<ellipse cx="118.17" cy="169.31" rx="1.49" ry="1.12" fill="#fff" stroke="#2828b0" stroke-width="0.5"/>
<ellipse cx="123.59" cy="169.07" rx="1.49" ry="1.12" fill="#fff" stroke="#2828b0" stroke-width="0.5"/>
<ellipse cx="129" cy="169.21" rx="1.49" ry="1.12" fill="#fff" stroke="#2828b0" stroke-width="0.5"/>
<ellipse cx="134.42" cy="168.5" rx="1.49" ry="1.12" fill="#fff" stroke="#2828b0" stroke-width="0.5"/>
<ellipse cx="139.84" cy="168.63" rx="1.49" ry="1.12" fill="#fff" stroke="#2828b0" stroke-width="0.5"/>
<ellipse cx="145.25" cy="168.28" rx="1.49" ry="1.12" fill="#fff" stroke="#2828b0" stroke-width="0.5"/>
<ellipse cx="150.67" cy="167.51" rx="1.49" ry="1.12" fill="#fff" stroke="#2828b0" stroke-width="0.5"/>
<ellipse cx="156.08" cy="167.05" rx="1.49" ry="1.12" fill="#fff" stroke="#2828b0" stroke-width="0.5"/>
<ellipse cx="161.5" cy="166.06" rx="1.49" ry="1.12" fill="#fff" stroke="#2828b0" stroke-width="0.5"/>
<ellipse cx="166.91" cy="164.95" rx="1.49" ry="1.12" fill="#fff" stroke="#2828b0" stroke-width="0.5"/>
<ellipse cx="172.33" cy="164.55" rx="1.49" ry="1.12" fill="#fff" stroke="#2828b0" stroke-width="0.5"/>
<ellipse cx="177.74" cy="163.55" rx="1.49" ry="1.12" fill="#fff" stroke="#2828b0" stroke-width="0.5"/>
<ellipse cx="183.16" cy="162.77" rx="1.49" ry="1.12" fill="#fff" stroke="#2828b0" stroke-width="0.5"/>
<ellipse cx="188.58" cy="161.11" rx="1.49" ry="1.12" fill="#fff" stroke="#2828b0" stroke-width="0.5"/>
<ellipse cx="193.99" cy="159.94" rx="1.49" ry="1.12" fill="#fff" stroke="#2828b0" stroke-width="0.5"/>
<ellipse cx="199.41" cy="159.19" rx="1.49" ry="1.12" fill="#fff" stroke="#2828b0" stroke-width="0.5"/>
<ellipse cx="204.82" cy="157.04" rx="1.49" ry="1.12" fill="#fff" stroke="#2828b0" stroke-width="0.5"/>
<ellipse cx="210.24" cy="155.52" rx="1.49" ry="1.12" fill="#fff" stroke="#2828b0" stroke-width="0.5"/>
<ellipse cx="215.65" cy="154.27" rx="1.49" ry="1.12" fill="#fff" stroke="#2828b0" stroke-width="0.5"/>
<ellipse cx="221.07" cy="151.55" rx="1.49" ry="1.12" fill="#fff" stroke="#2828b0" stroke-width="0.5"/>
<ellipse cx="226.48" cy="149.24" rx="1.49" ry="1.12" fill="#fff" stroke="#2828b0" stroke-width="0.5"/>
<ellipse cx="231.9" cy="147.52" rx="1.49" ry="1.12" fill="#fff" stroke="#2828b0" stroke-width="0.5"/>
<polyline points="74.85,163.09 80.26,163.2 85.68,162.65 91.09,163.14 96.51,162.74 101.93,163.03 107.34,163.49 112.76,162.67 118.17,162.74 123.59,163.24 129,162.89 134.42,161.97 139.84,161.82 145.25,161.23 150.67,160.52 156.08,160.37 161.5,158.97 166.91,158.97 172.33,157.29 177.74,157.28 183.16,156.05 188.58,154.66 193.99,153.66 199.41,152.04 204.82,150.88 210.24,148.48 215.65,147.11 221.07,145.54 226.48,143.47 231.9,140.39" fill="none" stroke="#a04848" stroke-width="0.7" stroke-linejoin="round" stroke-linecap="round" stroke-linejoin="miter"/>
<ellipse cx="74.85" cy="163.09" rx="1.49" ry="1.12" fill="#fff" stroke="#a04848" stroke-width="0.5"/>
<ellipse cx="80.26" cy="163.2" rx="1.49" ry="1.12" fill="#fff" stroke="#a04848" stroke-width="0.5"/>
<ellipse cx="85.68" cy="162.65" rx="1.49" ry="1.12" fill="#fff" stroke="#a04848" stroke-width="0.5"/>
<ellipse cx="91.09" cy="163.14" rx="1.49" ry="1.12" fill="#fff" stroke="#a04848" stroke-width="0.5"/>
<ellipse cx="96.51" cy="162.74" rx="1.49" ry="1.12" fill="#fff" stroke="#a04848" stroke-width="0.5"/>
<ellipse cx="101.93" cy="163.03" rx="1.49" ry="1.12" fill="#fff" stroke="#a04848" stroke-width="0.5"/>
<ellipse cx="107.34" cy="163.49" rx="1.49" ry="1.12" fill="#fff" stroke="#a04848" stroke-width="0.5"/>
<ellipse cx="112.76" cy="162.67" rx="1.49" ry="1.12" fill="#fff" stroke="#a04848" stroke-width="0.5"/>
<ellipse cx="118.17" cy="162.74" rx="1.49" ry="1.12" fill="#fff" stroke="#a04848" stroke-width="0.5"/>
<ellipse cx="123.59" cy="163.24" rx="1.49" ry="1.12" fill="#fff" stroke="#a04848" stroke-width="0.5"/>
<ellipse cx="129" cy="162.89" rx="1.49" ry="1.12" fill="#fff" stroke="#a04848" stroke-width="0.5"/>
<ellipse cx="134.42" cy="161.97" rx="1.49" ry="1.12" fill="#fff" stroke="#a04848" stroke-width="0.5"/>
<ellipse cx="139.84" cy="161.82" rx="1.49" ry="1.12" fill="#fff" stroke="#a04848" stroke-width="0.5"/>
<ellipse cx="145.25" cy="161.23" rx="1.49" ry="1.12" fill="#fff" stroke="#a04848" stroke-width="0.5"/>
<ellipse cx="150.67" cy="160.52" rx="1.49" ry="1.12" fill="#fff" stroke="#a04848" stroke-width="0.5"/>
<ellipse cx="156.08" cy="160.37" rx="1.49" ry="1.12" fill="#fff" stroke="#a04848" stroke-width="0.5"/>
<ellipse cx="161.5" cy="158.97" rx="1.49" ry="1.12" fill="#fff" stroke="#a04848" stroke-width="0.5"/>
<ellipse cx="166.91" cy="158.97" rx="1.49" ry="1.12" fill="#fff" stroke="#a04848" stroke-width="0.5"/>
<ellipse cx="172.33" cy="157.29" rx="1.49" ry="1.12" fill="#fff" stroke="#a04848" stroke-width="0.5"/>
<ellipse cx="177.74" cy="157.28" rx="1.49" ry="1.12" fill="#fff" stroke="#a04848" stroke-width="0.5"/>
<ellipse cx="183.16" cy="156.05" rx="1.49" ry="1.12" fill="#fff" stroke="#a04848" stroke-width="0.5"/>
<ellipse cx="188.58" cy="154.66" rx="1.49" ry="1.12" fill="#fff" stroke="#a04848" stroke-width="0.5"/>
<ellipse cx="193.99" cy="153.66" rx="1.49" ry="1.12" fill="#fff" stroke="#a04848" stroke-width="0.5"/>
<ellipse cx="199.41" cy="152.04" rx="1.49" ry="1.12" fill="#fff" stroke="#a04848" stroke-width="0.5"/>
<ellipse cx="204.82" cy="150.88" rx="1.49" ry="1.12" fill="#fff" stroke="#a04848" stroke-width="0.5"/>
<ellipse cx="210.24" cy="148.48" rx="1.49" ry="1.12" fill="#fff" stroke="#a04848" stroke-width="0.5"/>
<ellipse cx="215.65" cy="147.11" rx="1.49" ry="1.12" fill="#fff" stroke="#a04848" stroke-width="0.5"/>
<ellipse cx="221.07" cy="145.54" rx="1.49" ry="1.12" fill="#fff" stroke="#a04848" stroke-width="0.5"/>
<ellipse cx="226.48" cy="143.47" rx="1.49" ry="1.12" fill="#fff" stroke="#a04848" stroke-width="0.5"/>
<ellipse cx="231.9" cy="140.39" rx="1.49" ry="1.12" fill="#fff" stroke="#a04848" stroke-width="0.5"/>
<polyline points="74.85,156.04 80.26,156.82 85.68,156.28 91.09,156.04 96.51,156.82 101.93,156.51 107.34,156.83 112.76,156.44 118.17,156.28 123.59,155.92 129,155.46 134.42,155.75 139.84,155.08 145.25,154.74 150.67,154.35 156.08,153.07 161.5,153.17 166.91,152.4 172.33,151.21 177.74,150.39 183.16,148.89 188.58,148.5 193.99,146.62 199.41,145.67 204.82,143.74 210.24,142.06 215.65,140.88 221.07,138.82 226.48,136.94 231.9,134.82" fill="none" stroke="#ff3c9c" stroke-width="0.7" stroke-linejoin="round" stroke-linecap="round" stroke-linejoin="miter"/>
<ellipse cx="74.85" cy="156.04" rx="1.49" ry="1.12" fill="#fff" stroke="#ff3c9c" stroke-width="0.5"/>
<ellipse cx="80.26" cy="156.82" rx="1.49" ry="1.12" fill="#fff" stroke="#ff3c9c" stroke-width="0.5"/>
<ellipse cx="85.68" cy="156.28" rx="1.49" ry="1.12" fill="#fff" stroke="#ff3c9c" stroke-width="0.5"/>
<ellipse cx="91.09" cy="156.04" rx="1.49" ry="1.12" fill="#fff" stroke="#ff3c9c" stroke-width="0.5"/>
<ellipse cx="96.51" cy="156.82" rx="1.49" ry="1.12" fill="#fff" stroke="#ff3c9c" stroke-width="0.5"/>
<ellipse cx="101.93" cy="156.51" rx="1.49" ry="1.12" fill="#fff" stroke="#ff3c9c" stroke-width="0.5"/>
<ellipse cx="107.34" cy="156.83" rx="1.49" ry="1.12" fill="#fff" stroke="#ff3c9c" stroke-width="0.5"/>
<ellipse cx="112.76" cy="156.44" rx="1.49" ry="1.12" fill="#fff" stroke="#ff3c9c" stroke-width="0.5"/>
<ellipse cx="118.17" cy="156.28" rx="1.49" ry="1.12" fill="#fff" stroke="#ff3c9c" stroke-width="0.5"/>
<ellipse cx="123.59" cy="155.92" rx="1.49" ry="1.12" fill="#fff" stroke="#ff3c9c" stroke-width="0.5"/>
<ellipse cx="129" cy="155.46" rx="1.49" ry="1.12" fill="#fff" stroke="#ff3c9c" stroke-width="0.5"/>
<ellipse cx="134.42" cy="155.75" rx="1.49" ry="1.12" fill="#fff" stroke="#ff3c9c" stroke-width="0.5"/>
<ellipse cx="139.84" cy="155.08" rx="1.49" ry="1.12" fill="#fff" stroke="#ff3c9c" stroke-width="0.5"/>
<ellipse cx="145.25" cy="154.74" rx="1.49" ry="1.12" fill="#fff" stroke="#ff3c9c" stroke-width="0.5"/>
<ellipse cx="150.67" cy="154.35" rx="1.49" ry="1.12" fill="#fff" stroke="#ff3c9c" stroke-width="0.5"/>
<ellipse cx="156.08" cy="153.07" rx="1.49" ry="1.12" fill="#fff" stroke="#ff3c9c" stroke-width="0.5"/>
<ellipse cx="161.5" cy="153.17" rx="1.49" ry="1.12" fill="#fff" stroke="#ff3c9c" stroke-width="0.5"/>
<ellipse cx="166.91" cy="152.4" rx="1.49" ry="1.12" fill="#fff" stroke="#ff3c9c" stroke-width="0.5"/>
<ellipse cx="172.33" cy="151.21" rx="1.49" ry="1.12" fill="#fff" stroke="#ff3c9c" stroke-width="0.5"/>
<ellipse cx="177.74" cy="150.39" rx="1.49" ry="1.12" fill="#fff" stroke="#ff3c9c" stroke-width="0.5"/>
<ellipse cx="183.16" cy="148.89" rx="1.49" ry="1.12" fill="#fff" stroke="#ff3c9c" stroke-width="0.5"/>
<ellipse cx="188.58" cy="148.5" rx="1.49" ry="1.12" fill="#fff" stroke="#ff3c9c" stroke-width="0.5"/>
<ellipse cx="193.99" cy="146.62" rx="1.49" ry="1.12" fill="#fff" stroke="#ff3c9c" stroke-width="0.5"/>
<ellipse cx="199.41" cy="145.67" rx="1.49" ry="1.12" fill="#fff" stroke="#ff3c9c" stroke-width="0.5"/>
<ellipse cx="204.82" cy="143.74" rx="1.49" ry="1.12" fill="#fff" stroke="#ff3c9c" stroke-width="0.5"/>
<ellipse cx="210.24" cy="142.06" rx="1.49" ry="1.12" fill="#fff" stroke="#ff3c9c" stroke-width="0.5"/>
<ellipse cx="215.65" cy="140.88" rx="1.49" ry="1.12" fill="#fff" stroke="#ff3c9c" stroke-width="0.5"/>
<ellipse cx="221.07" cy="138.82" rx="1.49" ry="1.12" fill="#fff" stroke="#ff3c9c" stroke-width="0.5"/>
<ellipse cx="226.48" cy="136.94" rx="1.49" ry="1.12" fill="#fff" stroke="#ff3c9c" stroke-width="0.5"/>
<ellipse cx="231.9" cy="134.82" rx="1.49" ry="1.12" fill="#fff" stroke="#ff3c9c" stroke-width="0.5"/>
<line x1="65.5" y1="132.5" x2="65.5" y2="197.5" stroke="#333" stroke-width="0.85" />
<line x1="65.5" y1="132.8" x2="232.2" y2="132.8" stroke="#333" stroke-width="0.65" />
<line x1="65.5" y1="187.1" x2="69.5" y2="187.1" stroke="#1a1a1a" stroke-width="0.75" />
<line x1="65.5" y1="173.7" x2="67.8" y2="173.7" stroke="#1a1a1a" stroke-width="0.75" />
<line x1="65.5" y1="160.3" x2="69.5" y2="160.3" stroke="#1a1a1a" stroke-width="0.75" />
<line x1="65.5" y1="146.9" x2="67.8" y2="146.9" stroke="#1a1a1a" stroke-width="0.75" />
<line x1="66" y1="132.8" x2="66" y2="135.8" stroke="#1a1a1a" stroke-width="1.0" />
<line x1="93.65" y1="132.8" x2="93.65" y2="134.6" stroke="#1a1a1a" stroke-width="1.0" />
<line x1="121.3" y1="132.8" x2="121.3" y2="135.8" stroke="#1a1a1a" stroke-width="1.0" />
<line x1="148.95" y1="132.8" x2="148.95" y2="134.6" stroke="#1a1a1a" stroke-width="1.0" />
<line x1="176.6" y1="132.8" x2="176.6" y2="135.8" stroke="#1a1a1a" stroke-width="1.0" />
<line x1="204.25" y1="132.8" x2="204.25" y2="134.6" stroke="#1a1a1a" stroke-width="1.0" />
<line x1="231.9" y1="132.8" x2="231.9" y2="135.8" stroke="#1a1a1a" stroke-width="1.0" />
<text transform="translate(62.3,190.1) scale(1.33,1)" font-size="8.2" text-anchor="end" fill="#000" font-weight="normal" font-style="normal"  stroke="#000" stroke-width="0.15">5</text>
<text transform="translate(62.3,163.3) scale(1.33,1)" font-size="8.2" text-anchor="end" fill="#000" font-weight="normal" font-style="normal"  stroke="#000" stroke-width="0.15">6</text>
<text transform="translate(62.3,137.1) scale(1.33,1)" font-size="8.2" text-anchor="end" fill="#000" font-weight="normal" font-style="normal"  stroke="#000" stroke-width="0.15">7</text>
<text transform="translate(66.8,130.9) scale(1.33,1)" font-size="8.2" text-anchor="middle" fill="#000" font-weight="normal" font-style="normal"  stroke="#000" stroke-width="0.15">0</text>
<text transform="translate(122.5,130.9) scale(1.33,1)" font-size="8.2" text-anchor="middle" fill="#000" font-weight="normal" font-style="normal"  stroke="#000" stroke-width="0.15">10</text>
<text transform="translate(178.1,130.9) scale(1.33,1)" font-size="8.2" text-anchor="middle" fill="#000" font-weight="normal" font-style="normal"  stroke="#000" stroke-width="0.15">20</text>
<text transform="translate(233.9,130.9) scale(1.33,1)" font-size="8.2" text-anchor="middle" fill="#000" font-weight="normal" font-style="normal"  stroke="#000" stroke-width="0.15">30</text>
<text transform="translate(76.2,149.5) scale(1.27,1)" font-size="9.3" text-anchor="start" fill="#ff1493" font-weight="normal" font-style="normal" stroke="#ff1493" stroke-width="0.12">50 kOe</text>
<text transform="translate(79.3,195.2) scale(1.3,1)" font-size="9.3" text-anchor="start" fill="#000" font-weight="normal" font-style="normal"  stroke="#000" stroke-width="0.15">0 kOe</text>
</g>
<g id="inset2">
<rect x="201.5" y="185.8" width="123.8" height="52" fill="#fff" stroke="none"/>
<polygon points="202.82,194.32 200.49,191.08 205.15,191.08" fill="none" stroke="#ff1010" stroke-width="0.7" stroke-linejoin="miter"/>
<polygon points="204.1,194.16 201.77,190.92 206.43,190.92" fill="none" stroke="#ff1010" stroke-width="0.7" stroke-linejoin="miter"/>
<polygon points="205.66,193.69 203.34,190.45 207.99,190.45" fill="none" stroke="#ff1010" stroke-width="0.7" stroke-linejoin="miter"/>
<polygon points="205.6,192.32 203.27,189.09 207.93,189.09" fill="none" stroke="#ff1010" stroke-width="0.7" stroke-linejoin="miter"/>
<polygon points="205.93,193.82 203.6,190.58 208.26,190.58" fill="none" stroke="#ff1010" stroke-width="0.7" stroke-linejoin="miter"/>
<polygon points="207.29,194.96 204.96,191.72 209.61,191.72" fill="none" stroke="#ff1010" stroke-width="0.7" stroke-linejoin="miter"/>
<polygon points="207.51,193.02 205.18,189.78 209.84,189.78" fill="none" stroke="#ff1010" stroke-width="0.7" stroke-linejoin="miter"/>
<polygon points="208.06,196.14 205.73,192.9 210.39,192.9" fill="none" stroke="#ff1010" stroke-width="0.7" stroke-linejoin="miter"/>
<polygon points="208.04,194.73 205.71,191.49 210.37,191.49" fill="none" stroke="#ff1010" stroke-width="0.7" stroke-linejoin="miter"/>
<polygon points="211.24,195.08 208.91,191.84 213.57,191.84" fill="none" stroke="#ff1010" stroke-width="0.7" stroke-linejoin="miter"/>
<polygon points="212.76,200.35 210.43,197.11 215.09,197.11" fill="none" stroke="#ff1010" stroke-width="0.7" stroke-linejoin="miter"/>
<polygon points="214.22,201.42 211.89,198.18 216.55,198.18" fill="none" stroke="#ff1010" stroke-width="0.7" stroke-linejoin="miter"/>
<polygon points="217.35,203.53 215.03,200.29 219.68,200.29" fill="none" stroke="#ff1010" stroke-width="0.7" stroke-linejoin="miter"/>
<polygon points="218.79,209.43 216.46,206.19 221.11,206.19" fill="none" stroke="#ff1010" stroke-width="0.7" stroke-linejoin="miter"/>
<polygon points="221.07,212.57 218.74,209.33 223.4,209.33" fill="none" stroke="#ff1010" stroke-width="0.7" stroke-linejoin="miter"/>
<polygon points="222.38,216.57 220.05,213.33 224.71,213.33" fill="none" stroke="#ff1010" stroke-width="0.7" stroke-linejoin="miter"/>
<polygon points="224.7,219.91 222.37,216.67 227.02,216.67" fill="none" stroke="#ff1010" stroke-width="0.7" stroke-linejoin="miter"/>
<polygon points="226.74,224.08 224.41,220.84 229.06,220.84" fill="none" stroke="#ff1010" stroke-width="0.7" stroke-linejoin="miter"/>
<polygon points="229.43,224.8 227.1,221.56 231.76,221.56" fill="none" stroke="#ff1010" stroke-width="0.7" stroke-linejoin="miter"/>
<polygon points="231.17,226.66 228.84,223.42 233.49,223.42" fill="none" stroke="#ff1010" stroke-width="0.7" stroke-linejoin="miter"/>
<polygon points="233.02,228.96 230.7,225.72 235.35,225.72" fill="none" stroke="#ff1010" stroke-width="0.7" stroke-linejoin="miter"/>
<polygon points="235.4,230.22 233.07,226.99 237.73,226.99" fill="none" stroke="#ff1010" stroke-width="0.7" stroke-linejoin="miter"/>
<polygon points="237.13,231.66 234.81,228.43 239.46,228.43" fill="none" stroke="#ff1010" stroke-width="0.7" stroke-linejoin="miter"/>
<polygon points="239.11,232.66 236.78,229.42 241.44,229.42" fill="none" stroke="#ff1010" stroke-width="0.7" stroke-linejoin="miter"/>
<polygon points="240.79,233.29 238.46,230.06 243.12,230.06" fill="none" stroke="#ff1010" stroke-width="0.7" stroke-linejoin="miter"/>
<polygon points="243.23,233.64 240.9,230.4 245.55,230.4" fill="none" stroke="#ff1010" stroke-width="0.7" stroke-linejoin="miter"/>
<polygon points="245.62,234.21 243.29,230.97 247.94,230.97" fill="none" stroke="#ff1010" stroke-width="0.7" stroke-linejoin="miter"/>
<polygon points="247.31,234.08 244.99,230.84 249.64,230.84" fill="none" stroke="#ff1010" stroke-width="0.7" stroke-linejoin="miter"/>
<polygon points="248.85,235.05 246.52,231.81 251.18,231.81" fill="none" stroke="#ff1010" stroke-width="0.7" stroke-linejoin="miter"/>
<polygon points="251.59,235.38 249.26,232.14 253.92,232.14" fill="none" stroke="#ff1010" stroke-width="0.7" stroke-linejoin="miter"/>
<polygon points="254.33,235.6 252,232.36 256.66,232.36" fill="none" stroke="#ff1010" stroke-width="0.7" stroke-linejoin="miter"/>
<polygon points="254.94,235.48 252.61,232.24 257.26,232.24" fill="none" stroke="#ff1010" stroke-width="0.7" stroke-linejoin="miter"/>
<polygon points="257.85,235.64 255.52,232.4 260.18,232.4" fill="none" stroke="#ff1010" stroke-width="0.7" stroke-linejoin="miter"/>
<polygon points="260.49,236.47 258.17,233.23 262.82,233.23" fill="none" stroke="#ff1010" stroke-width="0.7" stroke-linejoin="miter"/>
<polygon points="262.36,236.19 260.03,232.95 264.68,232.95" fill="none" stroke="#ff1010" stroke-width="0.7" stroke-linejoin="miter"/>
<polygon points="264.4,236.02 262.07,232.78 266.72,232.78" fill="none" stroke="#ff1010" stroke-width="0.7" stroke-linejoin="miter"/>
<polygon points="265.59,236.46 263.27,233.22 267.92,233.22" fill="none" stroke="#ff1010" stroke-width="0.7" stroke-linejoin="miter"/>
<polygon points="268.34,236.57 266.01,233.33 270.66,233.33" fill="none" stroke="#ff1010" stroke-width="0.7" stroke-linejoin="miter"/>
<polygon points="269.42,236.51 267.09,233.28 271.75,233.28" fill="none" stroke="#ff1010" stroke-width="0.7" stroke-linejoin="miter"/>
<polygon points="271.77,236.55 269.44,233.31 274.1,233.31" fill="none" stroke="#ff1010" stroke-width="0.7" stroke-linejoin="miter"/>
<polygon points="273.56,236.72 271.24,233.49 275.89,233.49" fill="none" stroke="#ff1010" stroke-width="0.7" stroke-linejoin="miter"/>
<polygon points="276.07,237.12 273.74,233.88 278.39,233.88" fill="none" stroke="#ff1010" stroke-width="0.7" stroke-linejoin="miter"/>
<polygon points="278.67,236.97 276.35,233.73 281,233.73" fill="none" stroke="#ff1010" stroke-width="0.7" stroke-linejoin="miter"/>
<polygon points="280.19,237.27 277.86,234.04 282.51,234.04" fill="none" stroke="#ff1010" stroke-width="0.7" stroke-linejoin="miter"/>
<polygon points="282.92,237.25 280.59,234.02 285.25,234.02" fill="none" stroke="#ff1010" stroke-width="0.7" stroke-linejoin="miter"/>
<polygon points="284.83,237.56 282.5,234.33 287.16,234.33" fill="none" stroke="#ff1010" stroke-width="0.7" stroke-linejoin="miter"/>
<polygon points="285.67,237.57 283.34,234.33 287.99,234.33" fill="none" stroke="#ff1010" stroke-width="0.7" stroke-linejoin="miter"/>
<polygon points="288.09,237.24 285.77,234 290.42,234" fill="none" stroke="#ff1010" stroke-width="0.7" stroke-linejoin="miter"/>
<polygon points="290.97,237.49 288.65,234.25 293.3,234.25" fill="none" stroke="#ff1010" stroke-width="0.7" stroke-linejoin="miter"/>
<polygon points="291.99,237.47 289.66,234.23 294.31,234.23" fill="none" stroke="#ff1010" stroke-width="0.7" stroke-linejoin="miter"/>
<polygon points="293.91,237.23 291.58,233.99 296.24,233.99" fill="none" stroke="#ff1010" stroke-width="0.7" stroke-linejoin="miter"/>
<polygon points="297.15,237.32 294.82,234.08 299.48,234.08" fill="none" stroke="#ff1010" stroke-width="0.7" stroke-linejoin="miter"/>
<polygon points="298.86,237.62 296.53,234.38 301.19,234.38" fill="none" stroke="#ff1010" stroke-width="0.7" stroke-linejoin="miter"/>
<polygon points="301.26,237.68 298.94,234.44 303.59,234.44" fill="none" stroke="#ff1010" stroke-width="0.7" stroke-linejoin="miter"/>
<polygon points="302.01,237.41 299.68,234.17 304.34,234.17" fill="none" stroke="#ff1010" stroke-width="0.7" stroke-linejoin="miter"/>
<polygon points="304.79,237.11 302.46,233.87 307.12,233.87" fill="none" stroke="#ff1010" stroke-width="0.7" stroke-linejoin="miter"/>
<polygon points="306.97,237.63 304.64,234.39 309.29,234.39" fill="none" stroke="#ff1010" stroke-width="0.7" stroke-linejoin="miter"/>
<polygon points="309.48,237.95 307.15,234.72 311.8,234.72" fill="none" stroke="#ff1010" stroke-width="0.7" stroke-linejoin="miter"/>
<polygon points="310.41,237.33 308.08,234.1 312.73,234.1" fill="none" stroke="#ff1010" stroke-width="0.7" stroke-linejoin="miter"/>
<polygon points="313.3,237.27 310.98,234.03 315.63,234.03" fill="none" stroke="#ff1010" stroke-width="0.7" stroke-linejoin="miter"/>
<polygon points="314.66,237.68 312.33,234.45 316.99,234.45" fill="none" stroke="#ff1010" stroke-width="0.7" stroke-linejoin="miter"/>
<polygon points="316.62,237.89 314.29,234.65 318.95,234.65" fill="none" stroke="#ff1010" stroke-width="0.7" stroke-linejoin="miter"/>
<polygon points="319.77,237.24 317.44,234 322.1,234" fill="none" stroke="#ff1010" stroke-width="0.7" stroke-linejoin="miter"/>
<polygon points="321.3,237.95 318.97,234.71 323.63,234.71" fill="none" stroke="#ff1010" stroke-width="0.7" stroke-linejoin="miter"/>
<polygon points="324.06,237.5 321.73,234.26 326.39,234.26" fill="none" stroke="#ff1010" stroke-width="0.7" stroke-linejoin="miter"/>
<polyline points="203.4,191.9 204.4,192.04 205.4,192.22 206.4,192.4 207.4,193 208.4,193.6 209.4,194.53 210.4,195.43 211.4,196.58 212.4,197.73 213.4,198.88 214.4,200.02 215.4,201.64 216.4,203.56 217.4,205.47 218.4,207.4 219.4,209.37 220.4,211.34 221.4,213.32 222.4,215.16 223.4,216.81 224.4,218.46 225.4,220.11 226.4,221.42 227.4,222.58 228.4,223.75 229.4,224.88 230.4,225.72 231.4,226.56 232.4,227.4 233.4,228.12 234.4,228.68 235.4,229.23 236.4,229.79 237.4,230.22 238.4,230.63 239.4,231.04 240.4,231.43 241.4,231.74 242.4,232.04 243.4,232.35 244.4,232.58 245.4,232.75 246.4,232.91 247.4,233.08 248.4,233.24 249.4,233.4 250.4,233.57 251.4,233.72 252.4,233.83 253.4,233.94 254.4,234.05 255.4,234.15 256.4,234.26 257.4,234.37 258.4,234.48 259.4,234.55 260.4,234.62 261.4,234.69 262.4,234.76 263.4,234.83 264.4,234.9 265.4,234.97 266.4,235.02 267.4,235.05 268.4,235.09 269.4,235.13 270.4,235.16 271.4,235.2 272.4,235.23 273.4,235.27 274.4,235.31 275.4,235.34 276.4,235.38 277.4,235.41 278.4,235.45 279.4,235.48 280.4,235.52 281.4,235.56 282.4,235.59 283.4,235.63 284.4,235.66 285.4,235.7 286.4,235.71 287.4,235.73 288.4,235.75 289.4,235.76 290.4,235.77 291.4,235.79 292.4,235.81 293.4,235.82 294.4,235.83 295.4,235.85 296.4,235.87 297.4,235.88 298.4,235.89 299.4,235.91 300.4,235.93 301.4,235.94 302.4,235.95 303.4,235.97 304.4,235.99 305.4,236 306.4,236.01 307.4,236.02 308.4,236.03 309.4,236.04 310.4,236.05 311.4,236.06 312.4,236.07 313.4,236.08 314.4,236.09 315.4,236.1 316.4,236.11 317.4,236.12 318.4,236.13 319.4,236.14 320.4,236.15 321.4,236.16 322.4,236.17 323.4,236.18" fill="none" stroke="#000" stroke-width="1.45" stroke-linejoin="round" stroke-linecap="round" />
<line x1="201.5" y1="185.8" x2="325.3" y2="185.8" stroke="#3c3c3c" stroke-width="0.6" />
<line x1="201.5" y1="237.8" x2="325.3" y2="237.8" stroke="#3c3c3c" stroke-width="0.6" />
<line x1="201.5" y1="185.5" x2="201.5" y2="238.1" stroke="#3c3c3c" stroke-width="0.75" />
<line x1="325.3" y1="185.5" x2="325.3" y2="238.1" stroke="#3c3c3c" stroke-width="0.75" />
<line x1="203.1" y1="185.8" x2="203.1" y2="188.2" stroke="#3c3c3c" stroke-width="0.75" />
<line x1="203.1" y1="237.8" x2="203.1" y2="235.4" stroke="#3c3c3c" stroke-width="0.75" />
<line x1="223.42" y1="185.8" x2="223.42" y2="187" stroke="#3c3c3c" stroke-width="0.75" />
<line x1="223.42" y1="237.8" x2="223.42" y2="236.6" stroke="#3c3c3c" stroke-width="0.75" />
<line x1="243.75" y1="185.8" x2="243.75" y2="188.2" stroke="#3c3c3c" stroke-width="0.75" />
<line x1="243.75" y1="237.8" x2="243.75" y2="235.4" stroke="#3c3c3c" stroke-width="0.75" />
<line x1="264.07" y1="185.8" x2="264.07" y2="187" stroke="#3c3c3c" stroke-width="0.75" />
<line x1="264.07" y1="237.8" x2="264.07" y2="236.6" stroke="#3c3c3c" stroke-width="0.75" />
<line x1="284.4" y1="185.8" x2="284.4" y2="188.2" stroke="#3c3c3c" stroke-width="0.75" />
<line x1="284.4" y1="237.8" x2="284.4" y2="235.4" stroke="#3c3c3c" stroke-width="0.75" />
<line x1="304.73" y1="185.8" x2="304.73" y2="187" stroke="#3c3c3c" stroke-width="0.75" />
<line x1="304.73" y1="237.8" x2="304.73" y2="236.6" stroke="#3c3c3c" stroke-width="0.75" />
<line x1="325.05" y1="185.8" x2="325.05" y2="188.2" stroke="#3c3c3c" stroke-width="0.75" />
<line x1="325.05" y1="237.8" x2="325.05" y2="235.4" stroke="#3c3c3c" stroke-width="0.75" />
<line x1="201.5" y1="236.4" x2="204.1" y2="236.4" stroke="#3c3c3c" stroke-width="0.6" />
<line x1="325.3" y1="236.4" x2="322.9" y2="236.4" stroke="#3c3c3c" stroke-width="0.6" />
<line x1="201.5" y1="226.25" x2="203.1" y2="226.25" stroke="#3c3c3c" stroke-width="0.6" />
<line x1="325.3" y1="226.25" x2="323.8" y2="226.25" stroke="#3c3c3c" stroke-width="0.6" />
<line x1="201.5" y1="216.1" x2="204.1" y2="216.1" stroke="#3c3c3c" stroke-width="0.6" />
<line x1="325.3" y1="216.1" x2="322.9" y2="216.1" stroke="#3c3c3c" stroke-width="0.6" />
<line x1="201.5" y1="205.95" x2="203.1" y2="205.95" stroke="#3c3c3c" stroke-width="0.6" />
<line x1="325.3" y1="205.95" x2="323.8" y2="205.95" stroke="#3c3c3c" stroke-width="0.6" />
<line x1="201.5" y1="195.8" x2="204.1" y2="195.8" stroke="#3c3c3c" stroke-width="0.6" />
<line x1="325.3" y1="195.8" x2="322.9" y2="195.8" stroke="#3c3c3c" stroke-width="0.6" />
<text transform="translate(328.5,238.9) scale(1.34,1)" font-size="7.8" text-anchor="start" fill="#000" font-weight="normal" font-style="normal"  stroke="#000" stroke-width="0.15">0</text>
<text transform="translate(328.5,218.6) scale(1.34,1)" font-size="7.8" text-anchor="start" fill="#000" font-weight="normal" font-style="normal"  stroke="#000" stroke-width="0.15">10</text>
<text transform="translate(328.5,198.3) scale(1.34,1)" font-size="7.8" text-anchor="start" fill="#000" font-weight="normal" font-style="normal"  stroke="#000" stroke-width="0.15">20</text>
<text transform="translate(203.4,246.8) scale(1.14,1)" font-size="8.2" text-anchor="middle" fill="#000" font-weight="normal" font-style="normal"  stroke="#000" stroke-width="0.15">0</text>
<text transform="translate(244.05,246.8) scale(1.14,1)" font-size="8.2" text-anchor="middle" fill="#000" font-weight="normal" font-style="normal"  stroke="#000" stroke-width="0.15">100</text>
<text transform="translate(284.7,246.8) scale(1.14,1)" font-size="8.2" text-anchor="middle" fill="#000" font-weight="normal" font-style="normal"  stroke="#000" stroke-width="0.15">200</text>
</g>
<g id="axes-a">
<line x1="39.8" y1="122.8" x2="355.95" y2="122.8" stroke="#1a1a1a" stroke-width="0.75" />
<line x1="39.8" y1="249" x2="355.95" y2="249" stroke="#1a1a1a" stroke-width="0.75" />
<line x1="39.8" y1="122.42" x2="39.8" y2="249.38" stroke="#1a1a1a" stroke-width="1.0" />
<line x1="355.95" y1="122.42" x2="355.95" y2="249.38" stroke="#1a1a1a" stroke-width="1.0" />
<line x1="39.8" y1="233.3" x2="43.8" y2="233.3" stroke="#1a1a1a" stroke-width="0.75" />
<line x1="355.95" y1="233.3" x2="351.95" y2="233.3" stroke="#1a1a1a" stroke-width="0.75" />
<line x1="39.8" y1="217.53" x2="42.1" y2="217.53" stroke="#1a1a1a" stroke-width="0.75" />
<line x1="355.95" y1="217.53" x2="353.65" y2="217.53" stroke="#1a1a1a" stroke-width="0.75" />
<line x1="39.8" y1="201.75" x2="43.8" y2="201.75" stroke="#1a1a1a" stroke-width="0.75" />
<line x1="355.95" y1="201.75" x2="351.95" y2="201.75" stroke="#1a1a1a" stroke-width="0.75" />
<line x1="39.8" y1="185.98" x2="42.1" y2="185.98" stroke="#1a1a1a" stroke-width="0.75" />
<line x1="355.95" y1="185.98" x2="353.65" y2="185.98" stroke="#1a1a1a" stroke-width="0.75" />
<line x1="39.8" y1="170.2" x2="43.8" y2="170.2" stroke="#1a1a1a" stroke-width="0.75" />
<line x1="355.95" y1="170.2" x2="351.95" y2="170.2" stroke="#1a1a1a" stroke-width="0.75" />
<line x1="39.8" y1="154.43" x2="42.1" y2="154.43" stroke="#1a1a1a" stroke-width="0.75" />
<line x1="355.95" y1="154.43" x2="353.65" y2="154.43" stroke="#1a1a1a" stroke-width="0.75" />
<line x1="39.8" y1="138.65" x2="43.8" y2="138.65" stroke="#1a1a1a" stroke-width="0.75" />
<line x1="355.95" y1="138.65" x2="351.95" y2="138.65" stroke="#1a1a1a" stroke-width="0.75" />
<line x1="49.6" y1="122.8" x2="49.6" y2="125.8" stroke="#1a1a1a" stroke-width="1.0" />
<line x1="49.6" y1="249" x2="49.6" y2="246" stroke="#1a1a1a" stroke-width="1.0" />
<line x1="99.8" y1="122.8" x2="99.8" y2="124.6" stroke="#1a1a1a" stroke-width="1.0" />
<line x1="99.8" y1="249" x2="99.8" y2="247.2" stroke="#1a1a1a" stroke-width="1.0" />
<line x1="150" y1="122.8" x2="150" y2="125.8" stroke="#1a1a1a" stroke-width="1.0" />
<line x1="150" y1="249" x2="150" y2="246" stroke="#1a1a1a" stroke-width="1.0" />
<line x1="200.2" y1="122.8" x2="200.2" y2="124.6" stroke="#1a1a1a" stroke-width="1.0" />
<line x1="200.2" y1="249" x2="200.2" y2="247.2" stroke="#1a1a1a" stroke-width="1.0" />
<line x1="250.4" y1="122.8" x2="250.4" y2="125.8" stroke="#1a1a1a" stroke-width="1.0" />
<line x1="250.4" y1="249" x2="250.4" y2="246" stroke="#1a1a1a" stroke-width="1.0" />
<line x1="300.6" y1="122.8" x2="300.6" y2="124.6" stroke="#1a1a1a" stroke-width="1.0" />
<line x1="300.6" y1="249" x2="300.6" y2="247.2" stroke="#1a1a1a" stroke-width="1.0" />
<line x1="350.8" y1="122.8" x2="350.8" y2="125.8" stroke="#1a1a1a" stroke-width="1.0" />
<text transform="translate(35.6,236.9) scale(1.33,1)" font-size="10" text-anchor="end" fill="#000" font-weight="normal" font-style="normal"  stroke="#000" stroke-width="0.15">0</text>
<text transform="translate(35.6,205.35) scale(1.33,1)" font-size="10" text-anchor="end" fill="#000" font-weight="normal" font-style="normal"  stroke="#000" stroke-width="0.15">20</text>
<text transform="translate(35.6,173.8) scale(1.33,1)" font-size="10" text-anchor="end" fill="#000" font-weight="normal" font-style="normal"  stroke="#000" stroke-width="0.15">40</text>
<text transform="translate(35.6,142.25) scale(1.33,1)" font-size="10" text-anchor="end" fill="#000" font-weight="normal" font-style="normal"  stroke="#000" stroke-width="0.15">60</text>
<text transform="translate(49.8,260.3) scale(1.3,1)" font-size="10" text-anchor="middle" fill="#000" font-weight="normal" font-style="normal"  stroke="#000" stroke-width="0.15">0</text>
<text transform="translate(150.2,260.3) scale(1.3,1)" font-size="10" text-anchor="middle" fill="#000" font-weight="normal" font-style="normal"  stroke="#000" stroke-width="0.15">100</text>
<text transform="translate(250.6,260.3) scale(1.3,1)" font-size="10" text-anchor="middle" fill="#000" font-weight="normal" font-style="normal"  stroke="#000" stroke-width="0.15">200</text>
<text transform="translate(321.4,259.0) scale(1.42,1)" font-size="10.6" fill="#000" stroke="#000" stroke-width="0.18"><tspan font-style="italic">T</tspan> (K)</text>
<text transform="translate(46,217.8) scale(1.26,1)" font-size="9.2" text-anchor="start" fill="#ff1010" font-weight="normal" font-style="normal" stroke="#ff1010" stroke-width="0.12">50 kOe</text>
<text transform="translate(47,236.4) scale(1.3,1)" font-size="9.2" text-anchor="start" fill="#000" font-weight="normal" font-style="normal"  stroke="#000" stroke-width="0.15">0 kOe</text>
<text transform="translate(120.8,234.5) scale(1.4,1)" font-size="11.2" text-anchor="middle" fill="#000" font-weight="normal" font-style="normal" stroke="#000" stroke-width="0.2">(a)</text>
<text transform="translate(15.2,171) scale(1.46,1) rotate(-90)" font-size="9.6" text-anchor="middle" fill="#000" font-weight="normal" font-style="normal"  stroke="#000" stroke-width="0.15">&#961; (&#956;&#937; - cm)</text>
</g>
<g id="panel-b">
<polyline points="91.92,331.79 327.9,275.69" fill="none" stroke="#ff0000" stroke-width="0.85" stroke-linejoin="round" stroke-linecap="round" />
<polyline points="88.5,331.11 327.9,272.96" fill="none" stroke="#000000" stroke-width="0.85" stroke-linejoin="round" stroke-linecap="round" />
<polyline points="128.4,329.47 327.9,308.86" fill="none" stroke="#00d800" stroke-width="0.85" stroke-linejoin="round" stroke-linecap="round" />
<polyline points="128.4,325.24 327.9,287.15" fill="none" stroke="#0000ff" stroke-width="0.85" stroke-linejoin="round" stroke-linecap="round" />
<polyline points="168.3,331.93 327.9,327.42" fill="none" stroke="#ff00ff" stroke-width="0.9" stroke-linejoin="round" stroke-linecap="round" />
<rect x="41.17" y="330.9" width="3.46" height="2.6" fill="#fff" stroke="#000000" stroke-width="0.45"/>
<rect x="52.57" y="330.9" width="3.46" height="2.6" fill="#fff" stroke="#000000" stroke-width="0.45"/>
<rect x="63.97" y="330.08" width="3.46" height="2.6" fill="#fff" stroke="#000000" stroke-width="0.45"/>
<rect x="75.37" y="328.44" width="3.46" height="2.6" fill="#fff" stroke="#000000" stroke-width="0.45"/>
<rect x="86.77" y="326.53" width="3.46" height="2.6" fill="#fff" stroke="#000000" stroke-width="0.45"/>
<rect x="98.17" y="324.35" width="3.46" height="2.6" fill="#fff" stroke="#000000" stroke-width="0.45"/>
<rect x="126.67" y="320.12" width="3.46" height="2.6" fill="#fff" stroke="#000000" stroke-width="0.45"/>
<rect x="155.17" y="313.19" width="3.46" height="2.6" fill="#fff" stroke="#000000" stroke-width="0.45"/>
<rect x="183.67" y="306.27" width="3.46" height="2.6" fill="#fff" stroke="#000000" stroke-width="0.45"/>
<rect x="212.17" y="299.35" width="3.46" height="2.6" fill="#fff" stroke="#000000" stroke-width="0.45"/>
<rect x="240.67" y="292.43" width="3.46" height="2.6" fill="#fff" stroke="#000000" stroke-width="0.45"/>
<rect x="269.17" y="285.5" width="3.46" height="2.6" fill="#fff" stroke="#000000" stroke-width="0.45"/>
<rect x="297.67" y="278.58" width="3.46" height="2.6" fill="#fff" stroke="#000000" stroke-width="0.45"/>
<rect x="325.9" y="271.46" width="3.99" height="3" fill="#fff" stroke="#000000" stroke-width="0.45"/>
<ellipse cx="42.9" cy="332.2" rx="1.8" ry="1.35" fill="#fff" stroke="#ff0000" stroke-width="0.45"/>
<ellipse cx="54.3" cy="332.2" rx="1.8" ry="1.35" fill="#fff" stroke="#ff0000" stroke-width="0.45"/>
<ellipse cx="65.7" cy="331.65" rx="1.8" ry="1.35" fill="#fff" stroke="#ff0000" stroke-width="0.45"/>
<ellipse cx="77.1" cy="330.56" rx="1.8" ry="1.35" fill="#fff" stroke="#ff0000" stroke-width="0.45"/>
<ellipse cx="88.5" cy="328.92" rx="1.8" ry="1.35" fill="#fff" stroke="#ff0000" stroke-width="0.45"/>
<ellipse cx="99.9" cy="327.01" rx="1.8" ry="1.35" fill="#fff" stroke="#ff0000" stroke-width="0.45"/>
<ellipse cx="128.4" cy="323.12" rx="1.8" ry="1.35" fill="#fff" stroke="#ff0000" stroke-width="0.45"/>
<ellipse cx="156.9" cy="316.34" rx="1.8" ry="1.35" fill="#fff" stroke="#ff0000" stroke-width="0.45"/>
<ellipse cx="185.4" cy="309.57" rx="1.8" ry="1.35" fill="#fff" stroke="#ff0000" stroke-width="0.45"/>
<ellipse cx="213.9" cy="302.79" rx="1.8" ry="1.35" fill="#fff" stroke="#ff0000" stroke-width="0.45"/>
<ellipse cx="242.4" cy="296.02" rx="1.8" ry="1.35" fill="#fff" stroke="#ff0000" stroke-width="0.45"/>
<ellipse cx="270.9" cy="289.24" rx="1.8" ry="1.35" fill="#fff" stroke="#ff0000" stroke-width="0.45"/>
<ellipse cx="299.4" cy="282.46" rx="1.8" ry="1.35" fill="#fff" stroke="#ff0000" stroke-width="0.45"/>
<ellipse cx="327.9" cy="275.69" rx="1.8" ry="1.35" fill="#fff" stroke="#ff0000" stroke-width="0.45"/>
<polygon points="42.9,333.96 40.77,331 45.03,331" fill="#fff" stroke="#00d800" stroke-width="0.45" stroke-linejoin="miter"/>
<polygon points="54.3,333.96 52.17,331 56.43,331" fill="#fff" stroke="#00d800" stroke-width="0.45" stroke-linejoin="miter"/>
<polygon points="65.7,333.96 63.57,331 67.83,331" fill="#fff" stroke="#00d800" stroke-width="0.45" stroke-linejoin="miter"/>
<polygon points="77.1,333.69 74.97,330.73 79.23,330.73" fill="#fff" stroke="#00d800" stroke-width="0.45" stroke-linejoin="miter"/>
<polygon points="88.5,333.14 86.37,330.18 90.63,330.18" fill="#fff" stroke="#00d800" stroke-width="0.45" stroke-linejoin="miter"/>
<polygon points="99.9,332.32 97.77,329.36 102.03,329.36" fill="#fff" stroke="#00d800" stroke-width="0.45" stroke-linejoin="miter"/>
<polygon points="128.4,331.23 126.27,328.27 130.53,328.27" fill="#fff" stroke="#00d800" stroke-width="0.45" stroke-linejoin="miter"/>
<polygon points="156.9,328.29 154.77,325.33 159.03,325.33" fill="#fff" stroke="#00d800" stroke-width="0.45" stroke-linejoin="miter"/>
<polygon points="185.4,325.34 183.27,322.38 187.53,322.38" fill="#fff" stroke="#00d800" stroke-width="0.45" stroke-linejoin="miter"/>
<polygon points="213.9,322.4 211.77,319.44 216.03,319.44" fill="#fff" stroke="#00d800" stroke-width="0.45" stroke-linejoin="miter"/>
<polygon points="242.4,319.45 240.27,316.49 244.53,316.49" fill="#fff" stroke="#00d800" stroke-width="0.45" stroke-linejoin="miter"/>
<polygon points="270.9,316.51 268.77,313.55 273.03,313.55" fill="#fff" stroke="#00d800" stroke-width="0.45" stroke-linejoin="miter"/>
<polygon points="299.4,313.56 297.27,310.6 301.53,310.6" fill="#fff" stroke="#00d800" stroke-width="0.45" stroke-linejoin="miter"/>
<polygon points="327.9,310.62 325.77,307.66 330.03,307.66" fill="#fff" stroke="#00d800" stroke-width="0.45" stroke-linejoin="miter"/>
<polygon points="42.9,330.4 44.89,332.2 42.9,334 40.91,332.2" fill="#fff" stroke="#ff00ff" stroke-width="0.45"/>
<polygon points="54.3,330.4 56.29,332.2 54.3,334 52.3,332.2" fill="#fff" stroke="#ff00ff" stroke-width="0.45"/>
<polygon points="65.7,330.4 67.7,332.2 65.7,334 63.71,332.2" fill="#fff" stroke="#ff00ff" stroke-width="0.45"/>
<polygon points="77.1,330.4 79.09,332.2 77.1,334 75.1,332.2" fill="#fff" stroke="#ff00ff" stroke-width="0.45"/>
<polygon points="88.5,330.4 90.5,332.2 88.5,334 86.5,332.2" fill="#fff" stroke="#ff00ff" stroke-width="0.45"/>
<polygon points="99.9,330.4 101.9,332.2 99.9,334 97.91,332.2" fill="#fff" stroke="#ff00ff" stroke-width="0.45"/>
<polygon points="128.4,330.4 130.4,332.2 128.4,334 126.41,332.2" fill="#fff" stroke="#ff00ff" stroke-width="0.45"/>
<polygon points="156.9,330.4 158.9,332.2 156.9,334 154.91,332.2" fill="#fff" stroke="#ff00ff" stroke-width="0.45"/>
<polygon points="185.4,329.64 187.4,331.44 185.4,333.24 183.41,331.44" fill="#fff" stroke="#ff00ff" stroke-width="0.45"/>
<polygon points="213.9,328.84 215.9,330.64 213.9,332.44 211.91,330.64" fill="#fff" stroke="#ff00ff" stroke-width="0.45"/>
<polygon points="242.4,328.04 244.4,329.84 242.4,331.64 240.41,329.84" fill="#fff" stroke="#ff00ff" stroke-width="0.45"/>
<polygon points="270.9,327.23 272.89,329.03 270.9,330.83 268.9,329.03" fill="#fff" stroke="#ff00ff" stroke-width="0.45"/>
<polygon points="299.4,326.43 301.39,328.23 299.4,330.03 297.4,328.23" fill="#fff" stroke="#ff00ff" stroke-width="0.45"/>
<polygon points="327.9,325.62 329.89,327.42 327.9,329.22 325.9,327.42" fill="#fff" stroke="#ff00ff" stroke-width="0.45"/>
<ellipse cx="42.9" cy="332.2" rx="2" ry="1.5" fill="#fff" stroke="#505030" stroke-width="0.45"/>
<ellipse cx="54.3" cy="332.17" rx="2" ry="1.5" fill="#fff" stroke="#505030" stroke-width="0.45"/>
<ellipse cx="65.7" cy="332.15" rx="2" ry="1.5" fill="#fff" stroke="#505030" stroke-width="0.45"/>
<ellipse cx="77.1" cy="332.12" rx="2" ry="1.5" fill="#fff" stroke="#505030" stroke-width="0.45"/>
<ellipse cx="88.5" cy="332.09" rx="2" ry="1.5" fill="#fff" stroke="#505030" stroke-width="0.45"/>
<ellipse cx="99.9" cy="332.06" rx="2" ry="1.5" fill="#fff" stroke="#505030" stroke-width="0.45"/>
<ellipse cx="128.4" cy="332" rx="2" ry="1.5" fill="#fff" stroke="#505030" stroke-width="0.45"/>
<ellipse cx="156.9" cy="331.93" rx="2" ry="1.5" fill="#fff" stroke="#505030" stroke-width="0.45"/>
<ellipse cx="185.4" cy="331.86" rx="2" ry="1.5" fill="#fff" stroke="#505030" stroke-width="0.45"/>
<ellipse cx="213.9" cy="331.79" rx="2" ry="1.5" fill="#fff" stroke="#505030" stroke-width="0.45"/>
<ellipse cx="242.4" cy="331.72" rx="2" ry="1.5" fill="#fff" stroke="#505030" stroke-width="0.45"/>
<ellipse cx="270.9" cy="331.65" rx="2" ry="1.5" fill="#fff" stroke="#505030" stroke-width="0.45"/>
<ellipse cx="299.4" cy="331.59" rx="2" ry="1.5" fill="#fff" stroke="#505030" stroke-width="0.45"/>
<ellipse cx="327.9" cy="331.52" rx="2" ry="1.5" fill="#fff" stroke="#505030" stroke-width="0.45"/>
<polygon points="42.9,330.44 40.77,333.4 45.03,333.4" fill="#fff" stroke="#0000ff" stroke-width="0.45" stroke-linejoin="miter"/>
<polygon points="54.3,330.44 52.17,333.4 56.43,333.4" fill="#fff" stroke="#0000ff" stroke-width="0.45" stroke-linejoin="miter"/>
<polygon points="65.7,329.89 63.57,332.85 67.83,332.85" fill="#fff" stroke="#0000ff" stroke-width="0.45" stroke-linejoin="miter"/>
<polygon points="77.1,329.07 74.97,332.03 79.23,332.03" fill="#fff" stroke="#0000ff" stroke-width="0.45" stroke-linejoin="miter"/>
<polygon points="88.5,327.98 86.37,330.94 90.63,330.94" fill="#fff" stroke="#0000ff" stroke-width="0.45" stroke-linejoin="miter"/>
<polygon points="99.9,326.34 97.77,329.3 102.03,329.3" fill="#fff" stroke="#0000ff" stroke-width="0.45" stroke-linejoin="miter"/>
<polygon points="128.4,323.48 126.27,326.44 130.53,326.44" fill="#fff" stroke="#0000ff" stroke-width="0.45" stroke-linejoin="miter"/>
<polygon points="156.9,318.04 154.77,321 159.03,321" fill="#fff" stroke="#0000ff" stroke-width="0.45" stroke-linejoin="miter"/>
<polygon points="185.4,312.6 183.27,315.56 187.53,315.56" fill="#fff" stroke="#0000ff" stroke-width="0.45" stroke-linejoin="miter"/>
<polygon points="213.9,307.16 211.77,310.12 216.03,310.12" fill="#fff" stroke="#0000ff" stroke-width="0.45" stroke-linejoin="miter"/>
<polygon points="242.4,301.72 240.27,304.68 244.53,304.68" fill="#fff" stroke="#0000ff" stroke-width="0.45" stroke-linejoin="miter"/>
<polygon points="270.9,296.28 268.77,299.24 273.03,299.24" fill="#fff" stroke="#0000ff" stroke-width="0.45" stroke-linejoin="miter"/>
<polygon points="299.4,290.84 297.27,293.8 301.53,293.8" fill="#fff" stroke="#0000ff" stroke-width="0.45" stroke-linejoin="miter"/>
<polygon points="327.9,285.39 325.77,288.35 330.03,288.35" fill="#fff" stroke="#0000ff" stroke-width="0.45" stroke-linejoin="miter"/>
<ellipse cx="42.9" cy="332.2" rx="2.26" ry="1.7" fill="#fff" stroke="#3030d8" stroke-width="0.6"/>
<ellipse cx="54.3" cy="332.19" rx="2.26" ry="1.7" fill="#fff" stroke="#3030d8" stroke-width="0.6"/>
<ellipse cx="65.7" cy="332.18" rx="2.26" ry="1.7" fill="#fff" stroke="#3030d8" stroke-width="0.6"/>
<ellipse cx="77.1" cy="332.17" rx="2.26" ry="1.7" fill="#fff" stroke="#3030d8" stroke-width="0.6"/>
<ellipse cx="88.5" cy="332.16" rx="2.26" ry="1.7" fill="#fff" stroke="#3030d8" stroke-width="0.6"/>
<ellipse cx="99.9" cy="332.15" rx="2.26" ry="1.7" fill="#fff" stroke="#3030d8" stroke-width="0.6"/>
<ellipse cx="128.4" cy="332.12" rx="2" ry="1.5" fill="#fff" stroke="#404078" stroke-width="0.5"/>
<ellipse cx="156.9" cy="332.09" rx="2" ry="1.5" fill="#fff" stroke="#404078" stroke-width="0.5"/>
<ellipse cx="185.4" cy="332.06" rx="2" ry="1.5" fill="#fff" stroke="#404078" stroke-width="0.5"/>
<ellipse cx="213.9" cy="332.04" rx="2" ry="1.5" fill="#fff" stroke="#404078" stroke-width="0.5"/>
<ellipse cx="242.4" cy="332.01" rx="2" ry="1.5" fill="#fff" stroke="#404078" stroke-width="0.5"/>
<ellipse cx="270.9" cy="331.98" rx="2" ry="1.5" fill="#fff" stroke="#404078" stroke-width="0.5"/>
<ellipse cx="299.4" cy="331.95" rx="2" ry="1.5" fill="#fff" stroke="#404078" stroke-width="0.5"/>
<polygon points="330.09,331.53 326.4,330.03 326.4,333.03" fill="#fff" stroke="#2020c0" stroke-width="0.45" stroke-linejoin="miter"/>
<polyline points="42.9,332.2 327.9,331.38" fill="none" stroke="#8c8c00" stroke-width="0.7" stroke-linejoin="round" stroke-linecap="round" />
<line x1="39.8" y1="262.1" x2="355.95" y2="262.1" stroke="#1a1a1a" stroke-width="0.75" />
<line x1="39.8" y1="338.7" x2="355.95" y2="338.7" stroke="#1a1a1a" stroke-width="0.75" />
<line x1="39.8" y1="261.73" x2="39.8" y2="339.07" stroke="#1a1a1a" stroke-width="1.0" />
<line x1="355.95" y1="261.73" x2="355.95" y2="339.07" stroke="#1a1a1a" stroke-width="1.0" />
<line x1="39.8" y1="332.2" x2="43.8" y2="332.2" stroke="#1a1a1a" stroke-width="0.75" />
<line x1="355.95" y1="332.2" x2="351.95" y2="332.2" stroke="#1a1a1a" stroke-width="0.75" />
<line x1="39.8" y1="318.55" x2="42.1" y2="318.55" stroke="#1a1a1a" stroke-width="0.75" />
<line x1="355.95" y1="318.55" x2="353.65" y2="318.55" stroke="#1a1a1a" stroke-width="0.75" />
<line x1="39.8" y1="304.9" x2="43.8" y2="304.9" stroke="#1a1a1a" stroke-width="0.75" />
<line x1="355.95" y1="304.9" x2="351.95" y2="304.9" stroke="#1a1a1a" stroke-width="0.75" />
<line x1="39.8" y1="291.25" x2="42.1" y2="291.25" stroke="#1a1a1a" stroke-width="0.75" />
<line x1="355.95" y1="291.25" x2="353.65" y2="291.25" stroke="#1a1a1a" stroke-width="0.75" />
<line x1="39.8" y1="277.6" x2="43.8" y2="277.6" stroke="#1a1a1a" stroke-width="0.75" />
<line x1="355.95" y1="277.6" x2="351.95" y2="277.6" stroke="#1a1a1a" stroke-width="0.75" />
<line x1="39.8" y1="263.95" x2="42.1" y2="263.95" stroke="#1a1a1a" stroke-width="0.75" />
<line x1="355.95" y1="263.95" x2="353.65" y2="263.95" stroke="#1a1a1a" stroke-width="0.75" />
<line x1="42.9" y1="262.1" x2="42.9" y2="265.1" stroke="#1a1a1a" stroke-width="1.0" />
<line x1="42.9" y1="338.7" x2="42.9" y2="335.7" stroke="#1a1a1a" stroke-width="1.0" />
<line x1="99.9" y1="262.1" x2="99.9" y2="263.9" stroke="#1a1a1a" stroke-width="1.0" />
<line x1="99.9" y1="338.7" x2="99.9" y2="336.9" stroke="#1a1a1a" stroke-width="1.0" />
<line x1="156.9" y1="262.1" x2="156.9" y2="265.1" stroke="#1a1a1a" stroke-width="1.0" />
<line x1="156.9" y1="338.7" x2="156.9" y2="335.7" stroke="#1a1a1a" stroke-width="1.0" />
<line x1="213.9" y1="262.1" x2="213.9" y2="263.9" stroke="#1a1a1a" stroke-width="1.0" />
<line x1="213.9" y1="338.7" x2="213.9" y2="336.9" stroke="#1a1a1a" stroke-width="1.0" />
<line x1="270.9" y1="262.1" x2="270.9" y2="265.1" stroke="#1a1a1a" stroke-width="1.0" />
<line x1="270.9" y1="338.7" x2="270.9" y2="335.7" stroke="#1a1a1a" stroke-width="1.0" />
<line x1="327.9" y1="262.1" x2="327.9" y2="263.9" stroke="#1a1a1a" stroke-width="1.0" />
<line x1="327.9" y1="338.7" x2="327.9" y2="336.9" stroke="#1a1a1a" stroke-width="1.0" />
<text transform="translate(35.2,335.9) scale(1.33,1)" font-size="10" text-anchor="end" fill="#000" font-weight="normal" font-style="normal"  stroke="#000" stroke-width="0.15">0</text>
<text transform="translate(35.2,308.6) scale(1.33,1)" font-size="10" text-anchor="end" fill="#000" font-weight="normal" font-style="normal"  stroke="#000" stroke-width="0.15">10</text>
<text transform="translate(35.2,281.3) scale(1.33,1)" font-size="10" text-anchor="end" fill="#000" font-weight="normal" font-style="normal"  stroke="#000" stroke-width="0.15">20</text>
<text transform="translate(43.1,350.1) scale(1.33,1)" font-size="10" text-anchor="middle" fill="#000" font-weight="normal" font-style="normal"  stroke="#000" stroke-width="0.15">0</text>
<text transform="translate(157.1,350.1) scale(1.33,1)" font-size="10" text-anchor="middle" fill="#000" font-weight="normal" font-style="normal"  stroke="#000" stroke-width="0.15">20</text>
<text transform="translate(271.1,350.1) scale(1.33,1)" font-size="10" text-anchor="middle" fill="#000" font-weight="normal" font-style="normal"  stroke="#000" stroke-width="0.15">40</text>
<text transform="translate(309.0,351.5) scale(1.41,1)" font-size="10.6" fill="#000" stroke="#000" stroke-width="0.18"><tspan font-style="italic">H</tspan>(kOe)</text>
<text transform="translate(115.6,277.2) scale(1.4,1)" font-size="11.2" text-anchor="middle" fill="#000" font-weight="normal" font-style="normal" stroke="#000" stroke-width="0.2">(b)</text>
<text transform="translate(93.6,292) scale(1.4,1)" font-size="10.8" fill="#000" stroke="#000" stroke-width="0.15">SrIr<tspan font-size="7" dy="4">2</tspan><tspan dy="-4">B</tspan><tspan font-size="7" dy="4">2</tspan></text>
<text transform="translate(272.6,272.0) scale(1.33,1)" font-size="9" fill="#000" stroke-width="0.15" stroke="#000">2 K, <tspan fill="#ff0000" stroke="#ff0000">10 K</tspan></text>
<text transform="translate(324.2,285) scale(1.32,1)" font-size="9.3" text-anchor="start" fill="#0000ff" font-weight="normal" font-style="normal"  stroke="#0000ff" stroke-width="0.15">30 K</text>
<text transform="translate(323.4,302.9) scale(1.32,1)" font-size="9.3" text-anchor="start" fill="#00e000" font-weight="normal" font-style="normal"  stroke="#00e000" stroke-width="0.15">50 K</text>
<text transform="translate(14.8,313.8) scale(1.38,1) rotate(-90)" font-size="10" text-anchor="middle" fill="#000">&#916;&#961;/&#961;<tspan font-size="6.4" dy="2.2">0</tspan><tspan dy="-2.2"> (%)</tspan></text>
</g>
</g>
</svg>
</body></html>
